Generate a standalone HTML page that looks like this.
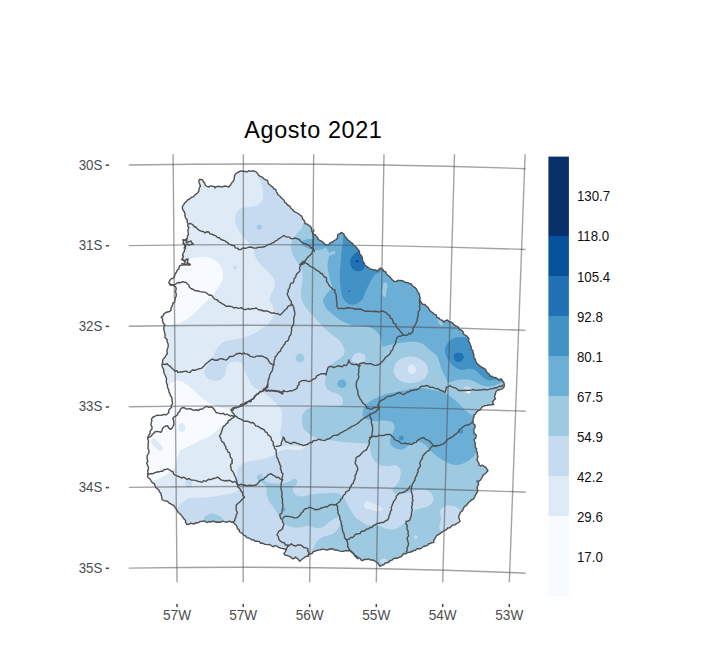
<!DOCTYPE html>
<html><head><meta charset="utf-8"><title>Agosto 2021</title>
<style>
html,body{margin:0;padding:0;background:#fff}
body{width:720px;height:658px;position:relative;overflow:hidden;font-family:"Liberation Sans",sans-serif}
.title{position:absolute;left:244.3px;top:117.1px;font-size:23.4px;line-height:27px;color:#000;white-space:nowrap;letter-spacing:0.62px}
.ll{position:absolute;left:576.9px;font-size:13.3px;line-height:16px;color:#111;white-space:nowrap;transform-origin:0 7.85px;transform:scaleY(1.17)}
.ya{position:absolute;left:60px;width:42.3px;text-align:right;font-size:13.3px;line-height:16px;color:#4d4d4d;white-space:nowrap;transform-origin:100% 12.6px;transform:scaleY(1.06)}
.xa{position:absolute;top:607.6px;width:40px;text-align:center;font-size:13.6px;line-height:16px;color:#4d4d4d;white-space:nowrap;transform-origin:50% 12.7px;transform:scaleY(1.08)}
.tk{position:absolute;background:#4a4a4a}
</style></head><body>
<div class="title">Agosto 2021</div>
<svg width="720" height="658" viewBox="0 0 720 658" style="position:absolute;left:0;top:0"><defs><clipPath id="uy"><path d="M199.2,179.5 L200.6,179.4 L202.5,180.0 L203.1,181.3 L204.5,183.0 L205.5,185.5 L207.0,186.3 L208.8,187.0 L210.5,185.9 L212.5,186.2 L214.2,186.4 L215.0,188.0 L216.3,186.6 L218.8,186.2 L220.9,186.6 L222.5,187.0 L224.0,186.0 L226.2,186.2 L228.8,187.0 L230.2,185.3 L231.0,184.1 L232.0,182.5 L233.4,181.1 L234.2,178.7 L234.5,176.2 L235.3,174.3 L237.5,172.5 L239.3,171.6 L240.7,171.0 L242.5,171.0 L244.0,171.5 L245.5,171.5 L247.5,171.8 L248.8,170.7 L250.8,171.4 L252.5,170.8 L254.5,171.1 L256.2,172.0 L257.4,173.2 L258.5,175.3 L260.0,176.2 L262.2,177.2 L263.8,178.8 L265.9,179.8 L267.5,180.5 L267.9,182.0 L268.3,183.6 L270.0,185.0 L271.5,186.3 L272.9,187.1 L273.8,188.8 L275.7,189.5 L276.2,191.2 L277.2,193.2 L278.1,194.8 L280.0,196.2 L281.1,197.8 L282.4,198.8 L283.8,200.0 L284.8,202.3 L286.4,203.4 L287.5,205.0 L289.8,206.1 L291.0,208.5 L292.5,209.5 L293.9,211.3 L296.2,212.5 L298.4,213.7 L300.0,215.0 L301.9,216.4 L302.5,218.8 L303.7,219.9 L304.9,222.0 L305.0,223.8 L306.8,223.9 L308.7,225.4 L310.0,226.2 L311.5,228.0 L311.7,230.8 L312.5,232.5 L313.6,234.4 L315.2,234.7 L316.2,236.2 L317.9,237.8 L318.0,239.4 L320.0,240.5 L321.8,241.3 L323.6,242.8 L325.0,244.5 L326.7,244.9 L328.8,245.0 L330.0,242.9 L332.5,242.0 L334.3,240.5 L336.2,239.5 L337.6,237.9 L337.5,236.1 L338.0,234.5 L339.5,234.0 L341.2,232.5 L343.8,233.8 L344.6,236.2 L346.2,237.5 L347.2,239.6 L348.8,240.3 L350.0,242.0 L351.8,242.8 L352.7,243.5 L353.8,245.5 L355.7,246.6 L357.5,248.8 L358.3,250.0 L359.5,251.5 L359.5,253.8 L361.1,255.4 L362.4,257.9 L362.5,260.0 L363.0,261.6 L364.5,263.4 L365.0,265.5 L366.7,266.4 L368.8,268.0 L370.6,269.4 L372.1,269.3 L373.8,270.0 L375.5,269.9 L377.5,271.2 L378.7,269.6 L380.5,268.0 L383.0,269.5 L383.5,271.0 L386.0,272.1 L386.2,273.8 L387.9,275.2 L390.0,277.0 L390.9,278.2 L392.7,280.2 L393.8,281.2 L396.1,281.6 L397.8,280.4 L400.0,280.5 L402.5,280.7 L404.4,282.0 L406.2,282.5 L407.8,282.6 L409.9,283.9 L411.2,283.8 L412.3,285.6 L413.5,286.8 L415.0,287.5 L416.4,288.9 L417.0,290.4 L418.0,292.5 L419.4,293.9 L419.5,296.2 L420.3,298.0 L419.4,299.7 L420.5,301.2 L421.8,303.3 L422.8,304.3 L424.9,304.5 L426.2,306.2 L428.0,307.3 L429.5,309.8 L430.5,311.3 L432.5,312.5 L434.1,314.2 L436.2,314.8 L436.9,317.3 L438.8,318.0 L440.1,319.7 L442.6,320.4 L443.8,322.0 L445.7,320.6 L447.5,320.0 L448.9,321.7 L451.2,322.0 L453.3,323.5 L454.1,324.9 L456.2,326.2 L458.1,326.8 L459.4,329.5 L461.2,330.0 L463.1,331.5 L463.2,333.9 L465.0,335.0 L466.7,336.1 L468.0,337.5 L469.0,338.6 L468.3,341.2 L469.5,342.5 L470.2,344.5 L470.9,346.1 L471.2,347.5 L471.2,349.1 L472.8,350.5 L473.0,352.5 L473.7,354.2 L473.9,355.7 L473.8,357.5 L475.3,359.2 L475.6,360.7 L476.2,362.5 L477.6,364.1 L479.1,365.2 L480.0,366.2 L481.7,367.1 L482.9,367.8 L485.0,368.8 L486.0,370.3 L487.0,372.5 L489.3,374.0 L490.0,376.2 L491.8,376.1 L493.3,377.5 L495.0,377.5 L497.1,378.5 L498.8,380.0 L501.2,378.8 L502.6,380.9 L503.8,382.5 L504.4,385.1 L503.8,387.5 L502.2,388.8 L500.0,389.5 L497.9,390.0 L496.2,391.2 L495.5,393.3 L495.0,395.0 L494.5,396.9 L495.5,398.8 L493.9,400.2 L492.5,402.0 L493.8,404.5 L491.9,404.7 L490.4,404.9 L488.8,405.0 L486.7,405.5 L485.0,405.6 L483.8,406.2 L482.1,406.8 L480.9,408.9 L480.0,410.0 L478.1,410.6 L476.2,412.5 L475.5,414.2 L473.8,415.0 L474.1,416.8 L473.0,418.8 L473.2,421.0 L472.0,422.5 L472.5,421.2 L473.5,423.7 L475.0,425.0 L475.1,427.4 L474.0,428.8 L473.8,431.2 L474.2,433.6 L476.0,434.7 L476.2,436.2 L475.8,438.0 L474.2,439.6 L474.5,441.2 L475.4,443.2 L475.1,445.3 L475.5,447.5 L476.6,448.8 L476.3,450.6 L477.5,452.5 L477.2,454.5 L478.0,456.6 L477.0,458.8 L477.4,460.9 L479.0,463.1 L478.8,465.0 L480.7,466.0 L482.1,465.1 L483.8,466.2 L485.9,467.3 L486.6,468.6 L488.0,470.5 L486.4,472.5 L485.0,473.8 L483.2,475.1 L482.0,477.5 L480.6,480.0 L478.8,481.2 L478.2,483.1 L478.7,484.4 L477.5,486.2 L477.0,488.2 L477.9,490.8 L477.0,492.5 L475.7,494.5 L475.0,496.2 L474.0,498.2 L472.8,499.5 L471.2,500.0 L470.2,501.2 L468.4,502.7 L467.5,503.8 L466.8,505.1 L465.1,506.1 L463.8,507.5 L463.2,509.3 L462.0,511.1 L460.0,512.5 L459.9,514.1 L458.8,515.6 L458.8,517.5 L459.3,519.1 L460.0,521.2 L458.6,522.5 L456.2,523.8 L455.1,524.8 L452.7,525.1 L451.2,526.2 L449.9,527.9 L447.7,528.0 L446.2,530.0 L444.4,530.3 L442.7,531.8 L441.2,532.5 L439.7,533.9 L437.4,535.0 L436.2,536.2 L435.1,538.5 L433.8,540.0 L433.8,542.5 L431.9,542.6 L430.6,543.5 L428.8,543.8 L427.7,545.1 L425.6,546.2 L423.8,546.2 L422.5,547.3 L420.5,548.7 L418.8,548.8 L416.7,548.8 L415.7,550.2 L413.8,550.5 L411.8,551.5 L409.8,552.4 L407.5,552.5 L405.7,553.9 L403.8,553.5 L402.5,555.0 L401.2,556.6 L400.0,557.0 L398.5,557.6 L396.9,558.5 L395.0,558.0 L393.4,558.9 L391.9,560.1 L390.0,560.5 L388.9,562.0 L387.1,562.8 L385.0,563.0 L384.1,564.5 L382.0,565.3 L380.0,566.2 L378.8,564.7 L377.7,563.0 L376.2,562.0 L374.3,560.5 L372.5,560.0 L370.5,560.0 L368.7,558.9 L366.2,559.5 L364.4,559.3 L362.7,560.6 L361.2,560.0 L359.7,558.1 L357.5,557.5 L356.3,555.8 L354.6,555.4 L353.8,553.8 L351.8,552.5 L350.5,551.0 L348.8,550.5 L346.7,550.7 L345.2,550.7 L343.8,551.2 L342.0,551.4 L339.6,551.1 L337.5,550.0 L335.0,550.2 L333.2,549.0 L331.2,548.8 L329.2,549.2 L327.5,550.0 L325.8,549.9 L323.2,549.1 L321.2,549.5 L319.1,550.1 L317.4,550.3 L315.0,551.2 L313.3,551.6 L312.2,553.5 L310.0,553.8 L308.7,554.5 L307.5,556.2 L305.1,556.9 L303.8,558.0 L302.4,559.0 L300.8,560.3 L299.5,561.2 L298.4,559.4 L297.3,558.5 L295.5,557.0 L294.5,558.3 L292.5,558.8 L291.0,557.2 L288.8,556.2 L287.5,555.5 L285.3,555.3 L283.8,553.8 L285.3,551.6 L286.2,549.5 L284.6,548.8 L282.5,548.5 L280.9,548.1 L278.8,547.5 L277.3,546.4 L274.9,545.6 L272.9,546.8 L271.2,545.5 L269.3,544.4 L267.9,544.6 L265.5,544.4 L264.0,544.0 L262.5,543.0 L260.5,543.2 L259.2,541.4 L257.0,541.2 L255.0,541.2 L253.6,539.8 L251.4,539.9 L250.7,539.0 L248.8,538.0 L246.7,537.6 L245.7,536.0 L243.8,535.4 L242.5,533.8 L240.8,532.5 L239.3,531.7 L239.4,529.8 L237.5,528.8 L236.8,526.3 L235.7,524.7 L233.8,523.0 L233.0,522.0 L231.3,522.2 L229.3,521.2 L227.5,522.0 L225.9,522.0 L224.5,521.9 L222.5,521.2 L220.7,522.2 L218.9,522.2 L217.5,522.0 L216.0,522.2 L214.4,521.5 L212.5,521.2 L210.5,522.0 L208.8,521.5 L207.5,522.5 L205.5,521.8 L204.3,520.9 L202.5,521.2 L201.1,521.4 L199.1,522.0 L197.5,523.0 L195.6,522.8 L194.6,523.8 L192.5,523.8 L190.9,523.2 L189.0,524.3 L187.0,524.5 L185.5,522.6 L185.6,520.4 L183.8,518.8 L182.8,517.1 L181.4,515.4 L180.0,513.8 L178.5,512.7 L176.9,510.4 L176.2,508.8 L175.2,507.7 L173.9,505.5 L172.5,505.0 L171.0,504.0 L169.1,503.1 L167.5,501.2 L165.9,501.0 L163.9,500.6 L162.0,499.5 L161.7,496.9 L161.2,495.0 L160.8,493.2 L159.4,491.7 L158.8,490.0 L157.4,488.7 L155.8,487.6 L155.0,485.5 L154.6,483.8 L152.4,482.6 L151.2,481.2 L150.2,479.2 L148.0,477.5 L147.6,475.2 L148.0,472.5 L147.7,470.7 L148.5,468.4 L148.3,467.2 L147.5,465.0 L146.6,463.0 L147.9,461.2 L147.3,459.8 L147.0,457.5 L147.3,455.2 L148.5,453.6 L149.0,452.3 L148.8,450.0 L147.9,448.3 L148.3,445.7 L148.0,443.8 L148.6,441.4 L147.9,439.3 L147.5,437.5 L148.7,435.5 L150.0,433.8 L150.0,431.6 L151.0,429.9 L152.0,428.8 L152.0,426.8 L150.9,424.9 L151.2,422.5 L151.9,420.7 L151.4,419.4 L152.5,417.5 L154.5,416.5 L156.2,415.5 L158.1,415.2 L160.0,415.4 L162.5,415.0 L164.1,414.3 L166.1,414.9 L167.5,413.8 L168.9,412.4 L168.7,410.4 L170.0,408.8 L171.6,407.3 L171.2,405.6 L172.5,403.8 L172.3,401.9 L172.1,400.6 L172.0,398.8 L171.5,396.6 L170.4,396.0 L170.0,393.8 L168.9,391.8 L168.7,389.7 L167.5,387.5 L167.5,385.1 L166.7,383.6 L166.2,381.2 L166.6,379.2 L166.0,377.2 L165.0,375.0 L164.1,373.2 L163.7,371.4 L163.8,370.0 L163.2,368.6 L162.2,366.9 L162.0,365.0 L162.6,362.8 L162.5,361.2 L163.2,359.1 L165.0,357.5 L166.1,355.0 L167.5,353.8 L167.0,352.0 L167.1,349.6 L168.0,347.5 L168.3,345.0 L167.7,342.9 L167.0,341.2 L167.1,339.4 L165.0,337.8 L165.0,336.2 L165.1,334.5 L164.5,332.1 L163.8,330.0 L163.9,328.4 L163.9,326.9 L165.0,325.0 L163.5,323.4 L162.5,321.2 L162.7,319.2 L161.2,317.0 L163.0,316.1 L163.8,313.8 L165.8,312.5 L167.5,312.0 L169.6,311.5 L171.2,310.0 L170.9,308.2 L172.0,306.3 L172.5,305.0 L172.8,303.2 L174.6,302.3 L175.0,300.0 L175.3,297.6 L176.2,296.3 L176.2,293.8 L175.5,291.6 L176.2,288.8 L175.7,286.9 L173.8,285.5 L171.6,284.8 L170.0,285.0 L168.8,282.5 L169.7,280.6 L171.2,278.8 L173.4,278.1 L174.5,276.2 L175.1,274.0 L176.2,272.5 L177.1,270.6 L178.8,268.8 L179.4,266.2 L181.2,265.0 L183.5,265.0 L185.0,263.8 L184.9,261.9 L183.0,260.0 L182.4,258.4 L183.4,256.2 L182.5,255.0 L183.2,253.2 L184.5,251.2 L184.5,249.6 L185.5,248.3 L185.0,246.2 L184.3,244.5 L183.0,243.8 L183.5,241.6 L183.0,240.0 L184.5,240.2 L186.2,240.0 L187.5,237.5 L187.4,235.9 L188.4,234.6 L188.2,232.5 L187.9,230.6 L188.1,229.5 L188.8,227.5 L187.6,225.7 L188.0,223.8 L187.0,221.8 L187.3,219.8 L186.2,218.8 L185.5,217.5 L184.8,215.6 L185.0,213.8 L184.3,211.7 L183.0,210.0 L182.3,208.3 L182.5,206.2 L183.8,204.6 L184.5,203.0 L186.5,201.6 L187.5,200.0 L189.3,199.2 L191.2,197.5 L193.3,196.8 L195.0,195.0 L196.3,193.9 L197.6,193.0 L198.8,191.2 L198.9,189.6 L199.5,187.4 L200.5,186.2 L199.8,184.2 L198.8,182.0Z"/></clipPath></defs><g clip-path="url(#uy)"><rect x="130" y="160" width="400" height="420" fill="#DEEBF7"/><path d="M165.0,263.8 C171.0,257.7 179.6,264.6 183.8,263.8 C187.9,262.9 187.3,259.9 190.0,258.8 C192.7,257.6 196.7,257.1 200.0,257.0 C203.3,256.9 207.1,257.1 210.0,258.0 C212.9,258.9 215.5,260.7 217.5,262.5 C219.5,264.3 221.1,266.5 222.0,268.8 C222.9,271.0 223.1,274.0 223.0,276.2 C222.9,278.5 222.2,280.4 221.2,282.5 C220.3,284.6 219.0,286.7 217.5,288.8 C216.0,290.8 214.2,293.1 212.5,295.0 C210.8,296.9 209.2,298.3 207.5,300.0 C205.8,301.7 204.2,303.3 202.5,305.0 C200.8,306.7 199.2,308.3 197.5,310.0 C195.8,311.7 194.2,313.5 192.5,315.0 C190.8,316.5 189.4,317.5 187.5,318.8 C185.6,320.0 182.8,321.7 181.2,322.5 C179.7,323.3 179.5,323.2 178.0,323.5 C176.5,323.8 174.2,324.2 172.0,324.5 C169.8,324.8 167.8,325.2 165.0,325.5 C162.2,325.8 157.8,330.2 155.0,326.0 C152.2,321.8 146.3,310.4 148.0,300.0 C149.7,289.6 159.0,269.8 165.0,263.8Z" fill="#F7FBFF"/><path d="M158.0,390.0 C161.2,387.5 165.2,386.2 167.5,385.0 C169.8,383.8 170.2,383.2 171.7,382.5 C173.2,381.8 175.0,380.9 176.7,380.8 C178.4,380.7 179.9,381.0 181.7,381.7 C183.5,382.4 185.6,383.6 187.5,385.0 C189.4,386.4 191.5,388.3 193.3,390.0 C195.1,391.7 196.6,393.5 198.3,395.0 C200.0,396.5 201.6,397.8 203.3,399.0 C205.0,400.2 206.6,401.5 208.3,402.5 C210.0,403.5 211.4,404.2 213.3,405.0 C215.2,405.8 217.4,406.7 220.0,407.5 C222.6,408.3 226.7,408.8 228.8,410.0 C230.8,411.2 232.5,413.3 232.5,415.0 C232.5,416.7 230.2,418.3 228.8,420.0 C227.3,421.7 225.6,423.3 223.8,425.0 C221.9,426.7 219.6,428.3 217.5,430.0 C215.4,431.7 213.3,433.5 211.2,435.0 C209.2,436.5 207.1,437.7 205.0,438.8 C202.9,439.8 200.8,440.3 198.8,441.2 C196.7,442.2 194.6,443.5 192.5,444.5 C190.4,445.5 188.1,446.6 186.2,447.5 C184.4,448.4 182.5,449.2 181.2,450.0 C180.0,450.8 179.5,450.8 178.8,452.5 C178.0,454.2 177.6,457.5 177.0,460.0 C176.4,462.5 175.8,465.8 175.0,467.5 C174.2,469.2 173.8,469.0 172.5,470.0 C171.2,471.0 169.4,472.5 167.5,473.8 C165.6,475.0 163.3,476.5 161.2,477.5 C159.2,478.5 157.2,479.4 155.0,480.0 C152.8,480.6 150.8,481.3 148.0,481.0 C145.2,480.7 139.7,484.8 138.0,478.0 C136.3,471.2 136.3,453.0 138.0,440.0 C139.7,427.0 144.7,408.3 148.0,400.0 C151.3,391.7 154.8,392.5 158.0,390.0Z" fill="#F7FBFF"/><ellipse cx="181.75" cy="427.5" rx="3.6" ry="4.2" fill="#DEEBF7"/><path d="M151.0,440.0 C151.1,438.8 152.8,438.2 154.0,438.5 C155.2,438.8 156.6,440.1 158.0,441.5 C159.4,442.9 161.8,445.5 162.5,447.0 C163.2,448.5 162.8,450.0 162.0,450.5 C161.2,451.0 159.4,450.8 158.0,450.0 C156.6,449.2 154.7,447.7 153.5,446.0 C152.3,444.3 150.9,441.2 151.0,440.0Z" fill="#DEEBF7"/><path d="M257.5,170.0 C257.6,172.8 256.9,172.7 257.5,175.0 C258.1,177.3 260.3,180.8 261.2,183.8 C262.2,186.7 262.8,189.8 263.0,192.5 C263.2,195.2 263.4,197.9 262.5,200.0 C261.6,202.1 259.6,203.8 257.5,205.0 C255.4,206.2 252.5,206.5 250.0,207.0 C247.5,207.5 244.6,207.3 242.5,208.0 C240.4,208.7 238.8,209.7 237.5,211.2 C236.2,212.8 235.2,215.2 235.0,217.5 C234.8,219.8 235.4,222.5 236.2,225.0 C237.1,227.5 238.5,230.2 240.0,232.5 C241.5,234.8 243.3,236.9 245.0,238.8 C246.7,240.6 248.5,241.9 250.0,243.8 C251.5,245.6 252.9,247.9 253.8,250.0 C254.6,252.1 254.2,254.2 255.0,256.2 C255.8,258.3 257.3,260.6 258.8,262.5 C260.2,264.4 262.1,265.8 263.8,267.5 C265.4,269.2 267.1,270.6 268.8,272.5 C270.4,274.4 272.7,276.7 273.8,278.8 C274.8,280.8 275.2,282.9 275.0,285.0 C274.8,287.1 273.3,289.2 272.5,291.2 C271.7,293.3 270.5,295.8 270.0,297.5 C269.5,299.2 269.1,300.0 269.5,301.2 C269.9,302.5 271.8,303.3 272.5,305.0 C273.2,306.7 273.6,309.3 273.8,311.2 C273.9,313.2 273.9,315.0 273.3,316.7 C272.7,318.4 271.2,320.2 270.0,321.7 C268.8,323.2 267.3,324.6 265.8,325.8 C264.3,327.1 262.5,328.1 260.8,329.2 C259.1,330.3 257.6,331.5 255.8,332.5 C254.0,333.5 251.9,334.5 250.0,335.3 C248.1,336.1 246.1,336.9 244.2,337.5 C242.2,338.1 240.2,338.3 238.3,338.7 C236.4,339.1 234.4,339.3 232.5,339.7 C230.6,340.1 228.5,340.2 226.7,340.8 C224.9,341.4 223.2,342.2 221.7,343.3 C220.2,344.4 218.6,346.1 217.5,347.5 C216.4,348.9 215.7,350.3 215.0,351.7 C214.3,353.1 213.9,354.7 213.3,355.8 C212.8,356.9 212.4,357.1 211.7,358.3 C211.0,359.6 210.2,361.8 209.2,363.3 C208.2,364.8 206.6,366.1 205.8,367.5 C205.0,368.9 204.4,370.4 204.2,371.7 C204.0,372.9 204.3,374.0 204.7,375.0 C205.1,376.0 205.7,376.7 206.7,377.5 C207.7,378.3 209.1,379.4 210.8,380.0 C212.5,380.6 214.9,380.9 216.7,380.8 C218.5,380.7 220.3,380.2 221.7,379.2 C223.1,378.2 224.3,376.5 225.0,375.0 C225.7,373.5 225.5,371.4 225.8,370.0 C226.1,368.6 226.1,367.8 226.7,366.7 C227.3,365.6 228.1,364.1 229.2,363.3 C230.3,362.5 231.8,361.9 233.3,361.7 C234.8,361.5 236.9,361.7 238.3,362.0 C239.7,362.3 240.8,362.5 241.7,363.3 C242.6,364.1 243.1,365.3 243.7,366.7 C244.2,368.1 244.4,370.0 245.0,371.7 C245.6,373.4 246.7,375.0 247.5,376.7 C248.3,378.4 249.0,380.0 250.0,381.7 C251.0,383.4 252.3,385.6 253.3,386.7 C254.3,387.8 255.1,387.8 256.2,388.5 C257.4,389.2 258.5,390.1 260.0,391.0 C261.5,391.9 263.3,392.9 265.0,394.0 C266.7,395.1 268.3,396.1 270.0,397.5 C271.7,398.9 273.3,400.8 275.0,402.5 C276.7,404.2 278.8,405.6 280.0,407.5 C281.2,409.4 281.7,411.8 282.0,414.0 C282.3,416.2 282.2,418.7 282.0,421.0 C281.8,423.3 281.3,425.8 281.0,428.0 C280.7,430.2 279.9,432.2 280.0,434.0 C280.1,435.8 281.1,437.5 281.5,439.0 C281.9,440.5 282.3,441.7 282.3,443.0 C282.3,444.3 281.9,445.8 281.5,447.0 C281.1,448.2 280.7,449.1 280.0,450.0 C279.3,450.9 278.5,451.7 277.5,452.5 C276.5,453.3 275.4,454.1 273.8,455.0 C272.1,455.9 269.8,457.0 267.5,457.8 C265.2,458.6 262.4,459.3 260.0,459.8 C257.6,460.3 255.5,460.4 253.3,460.8 C251.1,461.2 248.6,461.4 246.7,462.0 C244.8,462.6 243.1,463.3 241.7,464.2 C240.3,465.1 239.1,466.1 238.3,467.5 C237.5,468.9 237.3,470.7 237.0,472.5 C236.7,474.3 236.7,476.5 236.7,478.3 C236.7,480.1 236.7,481.8 237.0,483.3 C237.3,484.8 238.0,486.4 238.3,487.5 C238.6,488.6 239.1,489.3 238.7,490.0 C238.3,490.7 237.1,491.1 235.8,491.7 C234.5,492.3 232.6,493.2 230.8,493.7 C229.0,494.2 227.1,494.3 225.0,494.7 C222.9,495.1 220.5,495.5 218.3,495.8 C216.1,496.1 213.9,496.4 211.7,496.7 C209.5,497.0 207.2,497.3 205.0,497.5 C202.8,497.7 200.5,497.7 198.3,497.8 C196.1,497.9 193.6,497.8 191.7,498.0 C189.8,498.2 188.2,498.4 186.7,499.2 C185.2,499.9 183.8,501.4 182.5,502.5 C181.2,503.6 180.2,504.8 179.2,505.8 C178.2,506.8 178.6,506.3 176.7,508.3 C174.8,510.3 169.4,505.2 168.0,518.0 C166.6,530.8 108.5,573.8 168.0,585.0 C227.5,596.2 465.5,656.2 525.0,585.0 C584.5,513.8 569.7,229.2 525.0,158.0 C480.3,86.8 301.6,156.0 257.0,158.0 C212.4,160.0 257.4,167.2 257.5,170.0Z" fill="#C6DBEF"/><path d="M277.0,448.5 C277.7,447.6 279.8,447.0 281.7,446.5 C283.6,446.0 286.1,445.6 288.3,445.5 C290.5,445.4 293.1,446.0 295.0,446.0 C296.9,446.0 298.3,446.0 300.0,445.5 C301.7,445.0 304.1,442.9 305.0,443.0 C305.9,443.1 305.6,445.2 305.5,446.0 C305.4,446.8 305.1,447.4 304.2,448.0 C303.3,448.6 301.5,449.5 300.0,449.9 C298.5,450.3 296.9,450.4 295.0,450.3 C293.1,450.2 290.5,449.6 288.3,449.6 C286.1,449.6 283.5,450.1 281.7,450.5 C279.9,450.9 278.3,452.3 277.5,452.0 C276.7,451.7 276.3,449.4 277.0,448.5Z" fill="#DEEBF7"/><path d="M363.8,505.0 C363.8,503.8 365.0,501.7 366.2,501.2 C367.5,500.8 369.6,501.9 371.2,502.5 C372.9,503.1 374.6,504.2 376.2,505.0 C377.9,505.8 380.2,506.2 381.2,507.0 C382.3,507.8 383.1,509.3 382.5,510.0 C381.9,510.7 379.4,511.3 377.5,511.2 C375.6,511.2 373.1,509.9 371.2,509.5 C369.4,509.1 367.5,509.5 366.2,508.8 C365.0,508.0 363.8,506.2 363.8,505.0Z" fill="#DEEBF7"/><ellipse cx="235" cy="267.5" rx="2.0" ry="2.0" fill="#C6DBEF"/><ellipse cx="188.7" cy="483.3" rx="3.5" ry="4.3" fill="#C6DBEF"/><path d="M304.0,222.0 C299.4,234.0 303.3,225.5 302.5,226.9 C301.7,228.3 300.4,229.3 299.4,230.6 C298.4,231.8 297.4,233.0 296.3,234.4 C295.2,235.8 293.9,237.2 293.1,238.8 C292.3,240.3 291.6,242.1 291.2,243.8 C290.9,245.4 290.8,247.1 291.0,248.8 C291.2,250.4 291.8,252.1 292.5,253.8 C293.2,255.4 294.1,257.2 295.0,258.8 C295.9,260.3 297.3,261.9 298.1,263.1 C298.9,264.4 299.4,265.1 300.0,266.2 C300.6,267.4 301.5,268.3 301.9,270.0 C302.3,271.7 302.4,274.2 302.5,276.2 C302.6,278.3 302.4,280.5 302.2,282.5 C302.0,284.5 301.7,286.2 301.5,288.0 C301.3,289.8 300.9,291.3 301.0,293.3 C301.1,295.3 301.4,297.9 302.0,300.0 C302.6,302.1 303.6,304.0 304.7,305.8 C305.8,307.6 306.9,309.1 308.3,310.8 C309.7,312.5 311.8,314.1 313.3,315.8 C314.8,317.5 316.2,319.4 317.5,320.8 C318.8,322.2 319.5,323.0 321.0,324.5 C322.5,326.0 324.3,328.2 326.2,330.0 C328.2,331.8 330.4,333.3 332.5,335.0 C334.6,336.7 337.1,338.3 338.8,340.0 C340.4,341.7 341.5,343.1 342.5,345.0 C343.5,346.9 344.5,349.4 344.5,351.2 C344.5,353.1 343.7,354.8 342.5,356.2 C341.3,357.7 339.2,358.8 337.5,360.0 C335.8,361.2 334.0,362.3 332.5,363.8 C331.0,365.2 329.8,366.9 328.8,368.8 C327.7,370.6 326.9,372.9 326.2,375.0 C325.6,377.1 325.0,379.2 325.0,381.2 C325.0,383.3 325.4,385.8 326.2,387.5 C327.1,389.2 328.3,390.3 330.0,391.2 C331.7,392.2 334.4,392.2 336.2,393.0 C338.1,393.8 340.1,394.9 341.2,396.2 C342.4,397.6 343.0,399.8 343.0,401.2 C343.0,402.7 342.6,404.2 341.2,405.0 C339.9,405.8 337.3,406.0 335.0,406.2 C332.7,406.5 330.0,406.5 327.5,406.5 C325.0,406.5 322.5,406.4 320.0,406.5 C317.5,406.6 314.8,406.4 312.5,407.0 C310.2,407.6 307.9,408.7 306.2,410.0 C304.6,411.3 303.2,412.9 302.5,415.0 C301.8,417.1 301.8,420.2 302.0,422.5 C302.2,424.8 302.6,426.9 303.8,428.8 C304.9,430.6 306.9,432.3 308.8,433.8 C310.6,435.2 312.7,436.5 315.0,437.5 C317.3,438.5 320.0,439.1 322.5,439.5 C325.0,439.9 327.5,439.7 330.0,440.0 C332.5,440.3 334.6,440.8 337.5,441.2 C340.4,441.7 344.2,442.2 347.5,442.5 C350.8,442.8 354.4,442.8 357.5,443.0 C360.6,443.2 364.4,443.6 366.2,443.8 C368.1,443.9 368.1,443.1 368.8,443.8 C369.4,444.4 369.6,445.6 370.0,447.5 C370.4,449.4 370.4,452.7 371.2,455.0 C372.1,457.3 373.5,459.6 375.0,461.2 C376.5,462.9 377.9,464.2 380.0,465.0 C382.1,465.8 385.0,466.2 387.5,466.2 C390.0,466.2 392.9,464.6 395.0,465.0 C397.1,465.4 399.1,467.1 400.0,468.8 C400.9,470.4 400.7,472.9 400.5,475.0 C400.3,477.1 399.7,479.4 398.8,481.2 C397.8,483.1 396.0,484.8 395.0,486.2 C394.0,487.7 392.5,488.8 392.5,490.0 C392.5,491.2 393.3,493.1 395.0,493.8 C396.7,494.4 400.0,494.0 402.5,493.8 C405.0,493.5 407.9,493.0 410.0,492.5 C412.1,492.0 412.9,490.9 415.0,490.5 C417.1,490.1 420.2,489.9 422.5,490.0 C424.8,490.1 427.1,490.4 428.8,491.2 C430.4,492.1 431.8,493.3 432.5,495.0 C433.2,496.7 433.4,499.6 433.0,501.2 C432.6,502.9 431.3,504.0 430.0,505.0 C428.7,506.0 426.9,506.9 425.0,507.5 C423.1,508.1 420.6,508.1 418.8,508.8 C416.9,509.4 415.0,510.0 413.8,511.2 C412.5,512.5 412.1,514.8 411.2,516.2 C410.4,517.7 410.0,518.8 408.8,520.0 C407.5,521.2 405.4,522.5 403.8,523.8 C402.1,525.0 400.6,526.5 398.8,527.5 C396.9,528.5 394.6,529.3 392.5,529.5 C390.4,529.7 388.3,529.3 386.2,528.8 C384.2,528.2 381.9,526.9 380.0,526.2 C378.1,525.6 376.8,524.9 375.0,524.8 C373.2,524.7 370.7,525.6 369.2,525.5 C367.7,525.4 367.1,524.8 365.8,524.2 C364.6,523.6 363.1,522.5 361.7,521.7 C360.3,520.9 358.8,520.2 357.5,519.2 C356.2,518.2 355.2,517.0 354.2,515.8 C353.2,514.5 352.5,513.1 351.7,511.7 C350.9,510.3 350.0,509.0 349.2,507.5 C348.4,506.0 347.5,504.0 346.7,502.5 C345.9,501.0 345.2,499.6 344.2,498.3 C343.2,497.1 342.2,495.9 340.8,495.0 C339.4,494.1 337.6,493.3 335.8,493.0 C334.0,492.7 332.1,492.9 330.0,493.0 C327.9,493.1 325.5,493.2 323.3,493.3 C321.1,493.4 318.9,493.5 316.7,493.7 C314.5,493.9 312.2,494.3 310.0,494.7 C307.8,495.1 305.4,496.1 303.3,496.3 C301.2,496.5 299.0,496.3 297.5,495.8 C296.0,495.3 294.9,494.4 294.2,493.3 C293.4,492.2 292.9,490.4 293.0,489.2 C293.1,487.9 294.2,486.9 295.0,485.8 C295.8,484.7 297.2,483.5 297.5,482.5 C297.8,481.5 297.2,480.6 296.7,480.0 C296.1,479.4 295.2,478.6 294.2,478.7 C293.2,478.8 292.1,480.2 290.8,480.8 C289.6,481.4 288.2,482.1 286.7,482.5 C285.2,482.9 283.6,483.2 281.7,483.3 C279.8,483.4 277.2,483.4 275.0,483.3 C272.8,483.2 270.0,482.9 268.3,482.5 C266.6,482.1 266.0,481.6 265.0,480.8 C264.0,480.0 262.9,478.5 262.5,477.5 C262.1,476.5 263.1,475.6 262.5,475.0 C261.9,474.4 260.2,473.9 259.2,474.2 C258.2,474.5 256.9,475.7 256.7,476.7 C256.5,477.7 257.1,478.9 258.0,480.0 C258.9,481.1 260.6,481.9 262.0,483.0 C263.4,484.1 265.6,485.1 266.3,486.5 C267.0,487.9 266.1,489.9 266.3,491.7 C266.5,493.5 266.9,495.7 267.5,497.5 C268.1,499.3 269.0,500.8 270.0,502.5 C271.0,504.2 272.2,505.8 273.3,507.5 C274.4,509.2 275.7,511.0 276.7,512.5 C277.7,514.0 278.5,515.4 279.5,516.7 C280.5,518.0 281.3,519.1 282.5,520.5 C283.7,521.9 285.2,523.9 286.7,525.0 C288.2,526.1 289.9,526.6 291.7,527.0 C293.5,527.4 295.6,527.5 297.5,527.5 C299.4,527.5 301.5,527.0 303.3,526.7 C305.1,526.4 306.9,525.8 308.3,525.8 C309.7,525.8 310.3,526.6 311.7,527.0 C313.1,527.4 315.0,528.2 316.7,528.3 C318.4,528.4 320.2,528.0 321.7,527.5 C323.2,527.0 324.6,525.9 325.8,525.0 C327.1,524.1 327.9,523.0 329.2,522.0 C330.4,521.0 332.1,520.0 333.3,519.2 C334.6,518.5 335.7,517.6 336.7,517.5 C337.7,517.4 338.6,517.3 339.2,518.3 C339.8,519.3 340.1,521.6 340.0,523.3 C339.9,525.0 339.0,526.9 338.3,528.3 C337.6,529.7 336.9,530.7 335.8,531.7 C334.7,532.7 333.2,533.5 331.7,534.2 C330.2,534.9 328.4,535.2 326.7,535.8 C325.0,536.3 323.2,536.7 321.7,537.5 C320.2,538.3 318.6,539.5 317.5,540.8 C316.4,542.0 315.8,543.5 315.0,545.0 C314.2,546.5 313.2,548.3 312.5,550.0 C311.8,551.7 311.4,552.3 310.8,555.0 C310.2,557.7 309.3,560.5 309.0,566.0 C308.7,571.5 272.2,584.3 309.0,588.0 C345.8,591.7 493.2,660.2 530.0,588.0 C566.8,515.8 563.3,227.2 530.0,155.0 C496.7,82.8 367.7,143.8 330.0,155.0 C292.3,166.2 308.6,210.0 304.0,222.0Z" fill="#9ECAE1"/><ellipse cx="300" cy="358" rx="4.4" ry="4.4" fill="#9ECAE1"/><ellipse cx="259.25" cy="227" rx="2.5" ry="2.5" fill="#9ECAE1"/><path d="M203.3,520.5 C203.3,518.8 204.0,517.8 205.0,516.7 C206.0,515.7 207.8,514.7 209.2,514.2 C210.6,513.7 211.8,513.5 213.3,513.7 C214.8,513.9 216.9,514.7 218.3,515.3 C219.7,515.9 220.8,516.6 221.7,517.5 C222.6,518.4 223.5,519.1 223.7,520.5 C223.9,521.9 226.1,524.9 223.0,526.0 C219.9,527.1 208.3,527.9 205.0,527.0 C201.7,526.1 203.3,522.2 203.3,520.5Z" fill="#9ECAE1"/><path d="M393.8,370.0 C394.0,367.8 394.8,364.5 396.2,362.5 C397.7,360.5 400.0,359.0 402.5,358.0 C405.0,357.0 408.3,356.4 411.2,356.5 C414.2,356.6 417.5,357.4 420.0,358.8 C422.5,360.1 424.9,362.4 426.2,364.5 C427.6,366.6 428.2,369.0 428.0,371.2 C427.8,373.5 426.8,376.2 425.0,378.0 C423.2,379.8 420.2,381.2 417.5,382.0 C414.8,382.8 411.7,383.2 408.8,383.0 C405.8,382.8 402.3,381.8 400.0,380.5 C397.7,379.2 396.0,377.2 395.0,375.5 C394.0,373.8 393.5,372.2 393.8,370.0Z" fill="#C6DBEF"/><ellipse cx="411.75" cy="369.3" rx="4.2" ry="4.4" fill="#DEEBF7"/><path d="M352.0,358.0 C352.4,356.8 353.5,354.6 355.0,353.8 C356.5,352.9 359.5,352.5 361.2,353.0 C363.0,353.5 365.1,355.5 365.5,357.0 C365.9,358.5 365.1,361.0 363.8,362.0 C362.4,363.0 359.4,363.1 357.5,363.0 C355.6,362.9 353.4,362.1 352.5,361.2 C351.6,360.4 351.6,359.2 352.0,358.0Z" fill="#C6DBEF"/><path d="M440.0,512.5 C440.2,510.6 441.0,508.7 442.5,507.5 C444.0,506.3 446.7,505.7 448.8,505.5 C450.8,505.3 453.1,505.5 455.0,506.2 C456.9,507.0 458.5,508.4 460.0,510.0 C461.5,511.6 464.2,513.7 464.0,516.0 C463.8,518.3 461.0,521.9 459.0,524.0 C457.0,526.1 454.5,527.2 452.0,528.5 C449.5,529.8 445.8,531.2 443.8,531.5 C441.8,531.8 440.7,531.1 440.0,530.0 C439.3,528.9 439.3,526.9 439.5,525.0 C439.7,523.1 441.2,520.8 441.2,518.8 C441.3,516.7 439.8,514.4 440.0,512.5Z" fill="#C6DBEF"/><ellipse cx="415.75" cy="537" rx="1.8" ry="1.8" fill="#C6DBEF"/><ellipse cx="383.75" cy="561" rx="3.5" ry="2.5" fill="#C6DBEF"/><ellipse cx="467.5" cy="390" rx="4.5" ry="3.4" fill="#C6DBEF" transform="rotate(20 467.5 390)"/><ellipse cx="468" cy="391.5" rx="2.0" ry="1.3" fill="#F7FBFF" transform="rotate(20 468 391.5)"/><path d="M301.2,242.2 C301.7,241.5 303.3,240.5 304.4,240.0 C305.5,239.5 306.9,239.2 308.1,239.0 C309.4,238.8 310.9,239.2 311.9,238.8 C312.9,238.2 314.0,238.3 314.0,236.0 C314.0,233.7 307.7,228.5 312.0,225.0 C316.3,221.5 322.0,207.5 340.0,215.0 C358.0,222.5 396.7,250.8 420.0,270.0 C443.3,289.2 463.3,311.7 480.0,330.0 C496.7,348.3 516.2,371.2 520.0,380.0 C523.8,388.8 506.5,381.9 503.0,382.5 C499.5,383.1 500.5,383.1 498.8,383.8 C497.0,384.4 494.6,385.8 492.5,386.2 C490.4,386.7 488.1,386.5 486.2,386.2 C484.4,386.0 482.9,385.6 481.2,385.0 C479.6,384.4 478.1,383.3 476.2,382.5 C474.4,381.7 472.3,380.5 470.0,380.0 C467.7,379.5 465.0,379.4 462.5,379.5 C460.0,379.6 457.3,380.0 455.0,380.5 C452.7,381.0 450.2,382.8 448.8,382.5 C447.3,382.2 447.1,380.2 446.2,378.8 C445.4,377.3 444.6,375.4 443.8,373.8 C442.9,372.1 442.0,370.6 441.2,368.8 C440.5,366.9 440.2,364.6 439.5,362.5 C438.8,360.4 438.2,358.0 437.0,356.2 C435.8,354.5 434.1,353.4 432.5,352.0 C430.9,350.6 429.2,349.4 427.5,348.0 C425.8,346.6 424.4,344.8 422.5,343.8 C420.6,342.8 418.8,342.3 416.2,342.0 C413.8,341.7 410.4,341.8 407.5,342.0 C404.6,342.2 401.5,342.6 398.8,343.0 C396.0,343.4 393.5,344.0 391.2,344.5 C389.0,345.0 386.5,346.1 385.0,346.2 C383.5,346.4 382.6,346.8 382.0,345.5 C381.4,344.2 382.0,340.9 381.2,338.8 C380.5,336.6 379.0,334.2 377.5,332.5 C376.0,330.8 374.6,329.5 372.5,328.5 C370.4,327.5 367.9,326.8 365.0,326.2 C362.1,325.8 357.9,325.9 355.0,325.5 C352.1,325.1 350.0,324.7 347.5,323.8 C345.0,322.8 342.3,321.5 340.0,320.0 C337.7,318.5 335.8,316.7 333.8,315.0 C331.7,313.3 329.0,311.7 327.5,310.0 C326.0,308.3 325.2,306.7 324.5,305.0 C323.8,303.3 323.0,301.5 323.1,300.0 C323.2,298.5 324.3,297.5 325.0,296.2 C325.7,295.0 326.6,293.6 327.5,292.5 C328.4,291.4 329.8,290.4 330.6,289.4 C331.4,288.4 332.2,287.4 332.3,286.5 C332.4,285.6 331.6,284.8 331.2,283.8 C330.9,282.7 330.4,281.5 330.0,280.0 C329.6,278.5 329.3,276.7 329.0,275.0 C328.7,273.3 328.4,271.7 328.1,270.0 C327.9,268.3 327.5,266.7 327.5,265.0 C327.5,263.3 327.9,261.5 328.1,260.0 C328.4,258.5 328.9,257.4 329.0,256.0 C329.1,254.6 329.1,252.8 328.5,251.5 C327.9,250.2 326.6,248.4 325.6,248.0 C324.6,247.6 323.6,248.7 322.5,249.0 C321.4,249.3 320.1,249.8 318.8,250.0 C317.4,250.2 315.8,250.1 314.4,250.0 C313.0,249.9 311.9,249.7 310.6,249.4 C309.4,249.1 308.0,248.6 306.9,248.1 C305.8,247.6 304.6,246.9 303.8,246.2 C302.9,245.6 302.3,245.1 301.9,244.4 C301.5,243.7 300.8,243.0 301.2,242.2Z" fill="#6BAED6"/><path d="M362.5,412.5 C362.7,410.6 363.9,408.0 365.0,406.2 C366.1,404.5 367.3,403.3 369.0,402.0 C370.7,400.7 373.2,399.5 375.0,398.5 C376.8,397.5 377.9,397.1 380.0,396.2 C382.1,395.4 385.0,394.3 387.5,393.6 C390.0,392.9 392.5,392.7 395.0,392.2 C397.5,391.7 400.4,391.2 402.5,390.8 C404.6,390.4 405.8,390.2 407.5,389.8 C409.2,389.4 410.4,388.9 412.5,388.6 C414.6,388.3 417.9,387.8 420.0,387.8 C422.1,387.8 422.9,388.2 425.0,388.6 C427.1,389.0 430.0,389.5 432.5,390.0 C435.0,390.5 437.7,390.9 440.0,391.5 C442.3,392.1 444.6,393.0 446.2,393.8 C447.9,394.5 448.5,395.2 450.0,396.2 C451.5,397.3 453.3,398.5 455.0,400.0 C456.7,401.5 458.3,403.3 460.0,405.0 C461.7,406.7 463.3,408.5 465.0,410.0 C466.7,411.5 468.7,412.8 470.0,413.8 C471.3,414.7 470.2,414.5 473.0,415.5 C475.8,416.5 484.7,414.2 487.0,420.0 C489.3,425.8 488.7,444.6 487.0,450.0 C485.3,455.4 479.2,451.5 477.0,452.5 C474.8,453.5 475.3,454.8 473.8,456.2 C472.2,457.7 469.8,459.9 467.5,461.2 C465.2,462.6 462.5,464.0 460.0,464.5 C457.5,465.0 455.0,465.0 452.5,464.5 C450.0,464.0 447.3,462.4 445.0,461.2 C442.7,460.1 440.6,458.8 438.8,457.5 C436.9,456.2 435.4,455.2 433.8,453.8 C432.1,452.3 430.4,450.4 428.8,448.8 C427.1,447.1 425.6,445.0 423.8,443.8 C421.9,442.5 419.4,441.4 417.5,441.2 C415.6,441.1 414.2,442.2 412.5,443.0 C410.8,443.8 409.2,445.2 407.5,446.2 C405.8,447.3 404.4,449.1 402.5,449.5 C400.6,449.9 398.1,449.5 396.2,448.8 C394.4,448.0 392.3,446.5 391.2,445.0 C390.2,443.5 389.8,441.9 390.0,440.0 C390.2,438.1 391.8,435.8 392.5,433.8 C393.2,431.8 394.4,429.8 394.5,428.0 C394.6,426.2 393.8,424.1 393.0,423.0 C392.2,421.9 391.8,421.7 390.0,421.2 C388.2,420.8 385.0,420.5 382.5,420.5 C380.0,420.5 377.3,421.3 375.0,421.2 C372.7,421.2 370.6,420.6 368.8,420.0 C366.9,419.4 364.8,418.8 363.8,417.5 C362.7,416.2 362.3,414.4 362.5,412.5Z" fill="#6BAED6"/><ellipse cx="342" cy="383.75" rx="4.6" ry="4.3" fill="#6BAED6"/><ellipse cx="284.2" cy="509.7" rx="1.7" ry="1.7" fill="#6BAED6"/><ellipse cx="312.5" cy="301.7" rx="0.9" ry="0.9" fill="#6BAED6"/><path d="M383.0,283.8 C383.5,282.9 385.5,282.1 386.2,282.5 C387.0,282.9 387.5,284.8 387.5,286.2 C387.5,287.7 386.5,289.6 386.2,291.2 C386.0,292.9 386.3,295.4 385.8,296.2 C385.2,297.1 383.6,297.1 383.0,296.2 C382.4,295.4 382.0,292.7 382.0,291.2 C382.0,289.8 382.8,288.8 383.0,287.5 C383.2,286.2 382.5,284.6 383.0,283.8Z" fill="#9ECAE1"/><path d="M329.2,252.9 C329.7,252.2 331.6,251.7 332.5,251.4 C333.4,251.1 334.5,250.7 334.9,251.1 C335.3,251.5 335.4,253.2 334.9,253.8 C334.4,254.4 332.8,254.2 331.9,254.5 C331.0,254.8 329.9,256.1 329.5,255.8 C329.1,255.5 328.7,253.6 329.2,252.9Z" fill="#9ECAE1"/><path d="M437.5,318.8 C437.7,318.2 439.1,319.2 440.0,320.0 C440.9,320.8 442.8,322.8 443.0,323.8 C443.2,324.7 442.0,325.6 441.2,325.5 C440.5,325.4 439.4,324.1 438.8,323.0 C438.1,321.9 437.3,319.2 437.5,318.8Z" fill="#9ECAE1"/><path d="M343.8,229.0 C342.4,229.8 343.9,231.5 343.8,233.1 C343.6,234.7 343.3,236.8 343.1,238.8 C342.9,240.7 342.8,242.9 342.5,245.0 C342.2,247.1 341.8,249.2 341.5,251.2 C341.2,253.3 341.1,255.4 341.0,257.5 C340.9,259.6 340.8,261.7 340.6,263.8 C340.4,265.8 340.1,267.9 340.0,270.0 C339.9,272.1 339.8,274.2 339.8,276.2 C339.8,278.3 339.9,280.4 340.0,282.5 C340.1,284.6 340.3,286.7 340.6,288.8 C340.9,290.8 341.2,293.0 341.9,295.0 C342.5,297.0 343.3,299.0 344.5,300.5 C345.7,302.0 347.4,303.3 349.0,304.0 C350.6,304.7 352.5,304.8 354.0,304.6 C355.5,304.4 356.7,303.8 358.0,303.0 C359.3,302.2 360.9,301.1 361.9,300.0 C362.9,298.9 363.1,297.7 363.8,296.2 C364.4,294.8 364.9,292.9 365.6,291.2 C366.3,289.6 367.3,287.9 368.1,286.2 C368.9,284.6 369.8,282.8 370.6,281.2 C371.4,279.7 372.2,278.1 373.1,276.9 C374.0,275.6 375.1,274.6 376.2,273.8 C377.4,272.9 378.7,273.9 380.0,271.9 C381.3,269.9 386.5,267.3 384.0,262.0 C381.5,256.7 370.3,245.7 365.0,240.0 C359.7,234.3 355.5,229.8 352.0,228.0 C348.5,226.2 345.1,228.2 343.8,229.0Z" fill="#4292C6"/><path d="M445.0,350.0 C445.1,348.5 445.4,346.6 446.2,345.0 C447.1,343.4 448.3,341.8 450.0,340.5 C451.7,339.2 454.0,338.1 456.2,337.5 C458.5,336.9 461.8,336.9 463.8,337.0 C465.7,337.1 465.0,337.2 468.0,338.0 C471.0,338.8 477.7,337.5 482.0,342.0 C486.3,346.5 490.5,358.5 494.0,365.0 C497.5,371.5 502.8,378.6 503.0,381.0 C503.2,383.4 497.2,379.6 495.0,379.5 C492.8,379.4 491.7,380.6 490.0,380.5 C488.3,380.4 486.7,379.8 485.0,378.8 C483.3,377.8 481.7,376.0 480.0,374.5 C478.3,373.0 476.9,371.0 475.0,370.0 C473.1,369.0 470.8,368.8 468.8,368.8 C466.7,368.8 464.6,370.1 462.5,370.0 C460.4,369.9 458.1,369.0 456.2,368.0 C454.4,367.0 452.7,365.3 451.2,363.8 C449.8,362.2 448.5,360.4 447.5,358.8 C446.5,357.1 445.9,355.2 445.5,353.8 C445.1,352.3 444.9,351.5 445.0,350.0Z" fill="#4292C6"/><ellipse cx="401.25" cy="438" rx="2.5" ry="2.5" fill="#4292C6"/><ellipse cx="460.75" cy="431.5" rx="2.3" ry="2.3" fill="#4292C6"/><ellipse cx="477.5" cy="481.25" rx="1.6" ry="1.6" fill="#4292C6"/><path d="M350.0,261.2 C350.2,260.3 350.6,258.6 351.2,257.5 C351.9,256.4 352.8,255.3 353.8,254.4 C354.7,253.5 355.9,252.8 356.9,252.2 C357.9,251.7 357.6,249.4 359.5,251.0 C361.4,252.6 367.1,259.5 368.0,262.0 C368.9,264.5 365.8,265.0 365.0,266.2 C364.2,267.5 363.9,268.6 363.1,269.4 C362.3,270.2 361.1,271.0 360.0,271.2 C358.9,271.5 357.4,271.3 356.2,271.0 C355.1,270.7 354.0,270.2 353.1,269.4 C352.2,268.6 351.5,267.3 351.0,266.2 C350.5,265.2 350.2,263.9 350.0,263.1 C349.8,262.3 349.8,262.2 350.0,261.2Z" fill="#2171B5"/><path d="M453.8,355.5 C454.0,354.2 455.0,353.4 456.2,353.0 C457.5,352.6 460.0,352.5 461.2,353.0 C462.5,353.5 463.5,355.1 463.8,356.2 C464.0,357.4 463.3,359.0 462.5,360.0 C461.7,361.0 460.0,361.9 458.8,362.0 C457.5,362.1 455.8,361.6 455.0,360.5 C454.2,359.4 453.5,356.8 453.8,355.5Z" fill="#2171B5"/><ellipse cx="349.4" cy="291.25" rx="1.0" ry="1.0" fill="#2171B5"/><ellipse cx="357.25" cy="261.25" rx="1.6" ry="1.3" fill="#08519C"/></g><g fill="none" stroke="#4d4d4d" stroke-opacity="0.52" stroke-width="1.38"><path d="M173.1,154.3 L177.0,582.3"/><path d="M243.4,154.3 L243.2,582.3"/><path d="M313.7,154.3 L309.7,582.3"/><path d="M384.0,154.3 L376.3,582.3"/><path d="M454.5,154.3 L442.7,582.3"/><path d="M525.1,154.3 L509.3,582.3"/><path d="M128.8,165.0 Q327.2,161.8 525.6,168.7"/><path d="M128.8,245.6 Q327.2,242.4 525.6,249.5"/><path d="M128.8,326.2 Q327.2,323.0 525.6,330.4"/><path d="M128.8,406.8 Q327.2,403.6 525.6,411.3"/><path d="M128.8,487.4 Q327.2,484.2 525.6,492.2"/><path d="M128.8,568.1 Q327.2,564.9 525.6,573.2"/></g><g fill="none" stroke="#505050" stroke-width="1.4" stroke-linejoin="round" stroke-linecap="round"><path d="M188.8,223.8 L190.7,223.5 L192.5,224.5 L194.2,226.5 L196.2,227.5 L197.6,229.0 L199.3,230.4 L201.2,231.2 L203.4,231.5 L205.0,233.0 L207.0,231.7 L208.8,232.0 L210.1,233.8 L212.5,234.5 L214.5,235.3 L215.9,235.9 L217.5,237.5 L219.3,237.8 L221.1,239.5 L222.5,240.0 L224.7,240.6 L226.1,241.9 L227.5,242.5 L228.6,243.8 L230.4,244.6 L232.5,245.5 L234.4,245.7 L235.4,247.9 L237.7,248.2 L238.8,249.5 L240.4,249.7 L242.2,248.4 L243.8,248.0 L245.6,248.4 L248.3,247.4 L250.0,247.0 L252.2,247.5 L254.1,248.1 L256.2,248.0 L258.4,247.3 L260.3,247.4 L262.5,247.0 L264.7,246.8 L266.9,245.2 L268.8,244.5 L270.9,244.0 L271.8,243.2 L274.0,242.4 L275.0,241.2 L277.1,240.3 L278.3,239.1 L280.0,238.0 L281.7,237.0 L283.8,235.5 L285.8,236.6 L287.5,237.0 L289.6,237.1 L290.4,238.4 L292.5,238.8 L295.1,238.0 L297.5,238.8 L299.3,239.5 L300.8,241.5 L302.5,242.5 L304.0,243.7 L305.6,243.7 L307.5,245.0 L309.4,245.6 L311.0,247.6 L312.5,248.8 L313.8,249.6 L314.5,251.2"/><path d="M313.8,230.0 L313.5,231.4 L312.6,233.6 L313.2,235.0 L313.2,237.2 L313.6,238.9 L313.0,241.2 L313.3,243.5 L313.3,245.8 L312.8,247.5 L313.4,249.2 L312.5,251.2"/><path d="M312.5,251.2 L311.7,253.4 L310.3,255.1 L308.8,256.2 L307.4,257.7 L306.1,259.5 L305.0,261.2 L303.7,263.0 L301.5,263.3 L300.0,264.5"/><path d="M305.0,261.2 L302.7,261.8 L301.2,263.8 L300.0,266.2 L299.6,268.3 L300.0,270.0 L299.4,271.7 L297.6,273.0 L296.2,275.0 L295.5,277.5 L294.1,278.6 L293.8,281.2 L293.2,282.8 L291.1,283.1 L290.0,285.0 L289.9,286.5 L289.2,288.6 L288.0,290.0 L288.4,291.6 L287.3,293.5 L287.5,295.0 L288.6,296.8 L289.2,298.6 L290.0,300.0 L291.1,301.2 L291.5,303.0"/><path d="M170.0,283.8 L171.9,284.8 L173.0,284.6 L175.0,284.5 L176.9,283.2 L178.8,282.5 L180.1,282.9 L182.4,281.6 L183.8,282.0 L185.9,282.5 L187.3,283.8 L188.8,285.0 L189.5,287.3 L191.2,288.8 L192.8,289.2 L194.6,290.3 L196.2,290.8 L198.3,291.0 L200.2,291.6 L202.5,292.0 L204.4,292.1 L206.1,292.6 L207.5,293.8 L209.2,295.2 L211.0,295.0 L212.5,296.2 L213.6,298.0 L215.1,299.3 L217.5,300.0 L218.5,301.5 L220.9,302.9 L222.5,303.8 L224.2,304.7 L225.9,306.2 L227.5,306.2 L229.7,306.3 L231.8,306.6 L233.8,308.0 L235.5,307.4 L237.6,308.2 L240.0,308.0 L241.8,307.8 L243.8,309.5 L246.2,309.5 L247.9,308.5 L249.7,309.3 L251.2,308.8 L253.0,308.6 L254.5,308.6 L256.2,308.0 L257.9,309.3 L259.7,310.0 L261.2,310.0 L263.2,311.0 L265.6,310.9 L267.5,311.2 L269.2,311.9 L271.2,313.0 L273.8,313.0 L275.8,313.6 L278.2,313.7 L280.0,315.0 L281.5,313.7 L282.5,312.8 L284.1,311.1 L285.0,310.0 L287.0,308.5 L287.9,306.3 L290.0,305.5 L292.5,304.5"/><path d="M300.0,264.5 L301.8,264.5 L303.9,263.5 L305.0,262.5 L307.0,263.6 L308.3,264.6 L310.0,266.2 L311.9,267.1 L313.5,267.7 L314.6,268.7 L316.2,270.0 L317.8,270.8 L319.7,272.0 L320.4,273.3 L322.5,273.8 L323.2,275.7 L324.6,277.0 L326.2,277.5 L326.6,279.0 L326.5,281.4 L327.5,282.5 L328.4,284.0 L329.7,286.3 L331.2,287.5 L333.1,289.5 L335.0,290.0 L334.7,292.4 L336.0,294.2 L336.2,296.2 L336.5,298.3 L336.4,300.3 L336.8,302.0 L337.0,303.8 L336.9,305.9 L337.5,307.5 L338.8,308.8 L341.2,308.1 L343.8,308.8 L345.6,308.2 L347.5,307.7 L350.0,308.0 L352.3,308.2 L354.5,309.2 L356.2,308.8 L357.9,309.2 L360.2,309.0 L362.5,310.0 L364.3,311.0 L366.6,311.2 L368.8,311.2 L371.1,311.4 L372.6,311.5 L375.0,311.2 L377.0,311.5 L379.0,312.1 L381.2,311.2 L383.4,311.3 L384.3,311.9 L386.2,312.5 L387.4,314.4 L388.6,314.8 L390.0,316.2 L390.4,318.1 L392.2,319.0 L393.0,321.2 L393.4,323.1 L395.6,324.1 L396.2,326.2 L397.5,328.5 L399.2,329.4 L400.0,331.2 L402.0,333.1 L403.0,335.0"/><path d="M403.0,335.0 L405.6,335.4 L407.5,335.0 L408.9,333.3 L410.4,334.0 L412.0,332.5 L413.2,330.8 L412.8,328.6 L413.8,327.5 L414.4,325.8 L415.7,324.1 L416.2,322.5 L417.2,320.7 L417.3,318.6 L418.0,316.2 L418.1,314.1 L418.3,312.0 L419.5,310.0 L420.0,308.4 L419.4,306.6 L419.9,304.7 L419.5,302.5 L420.0,300.0"/><path d="M403.0,335.0 L400.9,336.1 L398.8,336.2 L396.8,337.8 L396.2,340.0 L395.7,341.5 L395.5,343.9 L394.5,345.0 L393.5,346.3 L393.0,348.4 L392.5,350.0 L390.8,351.1 L390.4,353.3 L388.8,355.0 L387.0,356.4 L385.9,357.0 L384.5,358.8 L383.3,360.5 L381.2,362.5 L379.7,364.2 L377.5,365.0 L376.0,365.4 L374.2,365.1 L372.5,364.5 L371.1,363.7 L369.3,363.8 L367.5,363.8 L366.0,363.9 L363.9,362.7 L362.5,363.0 L360.2,363.5 L358.8,364.5"/><path d="M360.0,365.5 L357.9,365.7 L356.9,364.2 L355.0,364.5 L353.3,364.5 L351.2,363.8 L349.5,362.5 L348.8,360.0 L348.3,362.3 L347.7,363.6 L346.2,365.5 L343.7,365.1 L342.3,366.7 L340.0,366.2 L337.8,365.8 L335.6,366.9 L333.8,367.5 L332.3,366.8 L330.0,366.2 L328.3,367.4 L327.5,368.8 L327.2,370.7 L326.2,373.3 L326.2,375.0 L324.9,373.7 L322.5,373.8 L320.5,374.0 L318.8,375.0 L316.6,375.9 L316.0,377.8 L315.0,378.8 L313.3,378.9 L311.4,380.7 L310.0,381.2 L307.9,381.5 L306.0,380.5 L303.8,380.5 L302.2,380.6 L300.3,381.7 L298.8,382.5 L299.1,384.6 L297.4,386.0 L297.5,387.5 L295.9,389.2 L293.8,390.0 L292.0,391.0 L290.0,390.7 L288.8,391.2 L287.2,391.6 L284.9,391.4 L283.8,390.5 L283.0,391.8 L282.5,393.8 L281.1,392.6 L278.9,392.1 L277.5,391.2 L275.5,390.6 L273.4,391.1 L271.2,390.5 L269.4,390.5 L267.0,390.7 L265.0,390.0"/><path d="M291.2,303.8 L292.8,305.4 L293.8,307.5 L294.0,309.3 L294.7,312.0 L295.0,313.8 L294.5,315.8 L293.7,317.8 L293.8,320.0 L293.7,322.4 L293.4,324.6 L292.5,326.2 L291.4,328.2 L291.7,330.0 L291.2,332.5 L290.8,335.0 L289.2,336.6 L288.8,338.8 L287.9,340.9 L285.4,341.8 L285.0,343.8 L283.6,345.2 L282.8,346.9 L281.2,348.8 L280.4,351.2 L278.9,352.1 L277.5,353.8 L276.5,355.8 L275.1,356.9 L275.0,358.8 L274.1,360.8 L273.9,363.1 L273.8,365.0 L273.0,366.6 L272.6,369.3 L272.0,371.2 L270.7,373.1 L269.9,374.3 L269.5,376.2 L269.0,378.6 L268.1,380.2 L268.0,382.5 L267.6,384.3 L266.8,386.0 L266.2,387.5 L264.6,388.3 L263.8,389.7 L262.5,391.2 L260.2,391.7 L258.8,393.0 L256.9,394.4 L255.0,396.2 L254.4,397.8 L252.6,399.2 L251.2,400.0 L249.0,401.0 L247.5,402.0 L245.4,402.5 L243.8,404.5 L242.0,406.0 L240.0,406.2 L238.1,406.9 L236.9,407.1 L235.0,407.5 L232.5,408.2 L231.2,410.0 L232.2,412.3 L233.8,413.8 L235.0,416.2"/><path d="M162.5,363.8 L164.9,364.5 L167.5,363.8 L168.2,365.2 L169.9,366.1 L171.2,367.5 L172.2,368.5 L173.7,369.8 L175.0,371.2 L177.0,370.8 L177.9,372.4 L180.0,372.0 L182.1,372.0 L184.2,371.4 L186.2,371.2 L187.9,372.1 L190.0,372.5 L191.1,371.1 L192.5,370.0 L195.1,370.3 L196.7,369.6 L198.8,368.8 L201.1,368.4 L202.1,367.8 L203.8,366.2 L204.7,365.1 L206.4,363.5 L207.5,362.5 L209.3,361.1 L211.2,359.5 L212.7,359.1 L214.9,360.4 L216.2,360.0 L217.7,360.3 L219.2,358.9 L221.2,358.8 L222.7,359.0 L224.5,359.6 L226.2,360.0 L227.7,358.9 L228.5,357.8 L230.0,356.2 L231.8,356.6 L233.3,356.1 L235.0,355.0 L236.8,353.5 L238.1,353.8 L240.0,353.0 L241.9,354.1 L243.8,352.9 L245.0,353.8 L246.7,353.9 L248.9,355.0 L250.0,356.2 L251.7,356.7 L253.1,357.1 L255.0,357.0 L256.2,356.1 L258.3,356.0 L260.0,356.2 L261.5,355.9 L263.1,356.5 L265.0,357.5 L266.6,358.0 L267.9,359.4 L268.8,361.2 L270.3,363.4 L272.5,364.5 L273.8,365.0"/><path d="M147.8,437.8 L149.5,437.2 L151.4,436.0 L152.5,434.2 L153.9,433.1 L154.8,432.0 L156.7,431.4 L158.6,431.6 L160.8,432.2 L162.0,430.7 L162.4,428.9 L163.6,427.2 L165.7,426.0 L167.8,425.8 L168.6,427.9 L170.6,429.4 L172.0,428.2 L173.0,426.5 L173.9,424.4 L173.7,422.6 L173.7,420.4 L172.8,418.9 L173.7,417.2 L175.7,416.2 L177.5,414.7 L178.2,412.3 L179.8,411.7 L180.3,409.2 L182.2,407.7 L184.4,407.8 L186.3,409.0 L188.0,408.9 L189.6,408.8 L191.4,409.2 L192.7,410.1 L195.0,410.2 L196.9,409.7 L198.3,410.6 L200.1,409.1 L201.8,409.3 L203.8,408.0 L204.7,407.2 L206.7,406.4 L209.0,407.3 L211.1,406.8 L212.8,407.8 L214.2,409.5 L215.5,411.4 L216.4,412.8 L219.1,413.1 L220.6,413.9 L223.3,413.3 L225.0,414.8 L227.1,414.2 L228.3,414.9 L230.3,416.1 L231.8,415.4 L233.5,416.3 L235.0,416.2"/><path d="M235.0,416.2 L233.2,417.6 L231.4,418.7 L230.0,420.0 L228.1,420.9 L228.1,422.7 L226.2,423.8 L225.1,425.4 L223.0,426.8 L222.5,428.8 L221.8,430.7 L221.2,433.2 L220.0,435.0 L219.6,436.6 L220.9,438.2 L221.2,440.0 L222.1,441.6 L224.1,443.1 L224.5,445.0 L225.8,446.6 L225.9,448.7 L227.5,450.0 L227.8,452.2 L229.7,452.8 L230.0,455.0 L230.4,457.1 L232.2,459.2 L232.0,461.2"/><path d="M232.0,461.2 L232.2,463.4 L230.8,464.1 L230.5,466.2 L231.0,467.7 L231.3,470.1 L232.5,471.2 L233.7,472.8 L234.1,474.4 L235.0,476.2 L235.7,477.8 L236.5,479.9 L237.0,481.2 L236.8,482.5 L237.5,484.5"/><path d="M235.0,416.2 L236.6,416.5 L238.0,418.1 L240.0,418.8 L241.7,419.7 L244.0,421.2 L246.2,421.2 L248.0,421.3 L250.6,422.7 L252.5,422.5 L254.1,423.3 L255.6,425.9 L257.5,426.2 L258.9,426.9 L261.0,428.5 L262.5,428.8 L264.1,429.7 L265.3,431.9 L267.0,432.5 L268.0,434.9 L270.0,436.2 L271.4,438.1 L271.3,440.1 L272.5,441.2 L273.4,442.7 L273.2,445.2 L274.5,446.2"/><path d="M274.5,446.2 L274.4,448.3 L276.2,449.9 L276.2,452.5 L276.5,455.0 L276.7,457.0 L278.0,458.8 L278.5,461.1 L279.4,462.9 L280.0,465.0 L280.9,466.1 L280.3,468.7 L281.2,470.0 L281.5,472.4 L283.0,473.8 L282.7,475.5 L282.0,477.9 L282.5,480.0 L281.4,482.2 L281.2,484.2 L281.2,486.2 L281.0,488.3 L281.4,490.5 L282.0,492.5 L282.0,495.0 L281.7,496.9 L282.5,498.8 L282.5,500.6 L282.3,502.9 L283.0,505.0 L282.8,507.4 L282.3,509.3 L282.0,511.2 L281.8,513.3 L279.9,514.4 L280.0,516.2 L280.8,518.5 L282.5,520.0 L282.5,521.7 L283.7,523.6 L283.8,525.0 L282.8,527.1 L282.5,528.8 L281.0,530.1 L278.8,531.2 L277.8,533.2 L277.0,535.0 L278.4,536.6 L278.8,539.5 L280.2,540.9 L282.5,542.5 L284.6,543.0 L285.4,545.0 L287.0,545.0 L288.8,546.2"/><path d="M378.6,407.5 L378.9,408.9 L377.1,410.0 L376.1,411.7 L374.7,412.0 L372.8,413.3 L370.8,413.9 L369.5,414.9 L367.8,415.6 L366.7,416.9 L365.0,417.5 L363.0,418.8 L361.6,419.9 L360.0,421.2 L358.3,422.9 L357.1,423.8 L355.0,425.0 L353.3,425.9 L351.4,426.5 L350.0,428.0 L348.4,428.5 L347.2,429.5 L345.6,430.4 L343.8,431.2 L342.4,432.2 L340.5,432.8 L339.2,434.2 L337.5,435.0 L335.9,435.2 L333.9,435.4 L332.5,436.2 L330.7,437.8 L328.8,438.8 L327.1,439.2 L325.0,440.5 L323.5,440.4 L321.7,440.1 L320.0,439.5 L318.0,439.1 L317.1,440.4 L315.0,440.5 L313.3,440.7 L312.1,442.5 L310.0,442.5 L308.2,444.0 L306.9,444.5 L305.0,445.0 L302.9,445.6 L302.1,444.7 L300.0,444.5 L298.1,443.6 L296.6,443.2 L295.0,442.5 L293.0,442.4 L291.2,443.8 L289.3,443.0 L288.0,442.3 L286.2,442.0 L284.9,440.4 L284.4,438.3 L283.0,437.0 L283.1,438.9 L282.1,440.7 L281.3,442.7 L281.2,445.0 L279.9,445.7 L277.8,446.4 L276.2,446.2"/><path d="M148.0,474.5 L149.9,473.7 L152.5,473.8 L153.8,473.1 L155.5,472.5 L157.5,472.0 L159.2,471.8 L161.1,471.2 L162.5,471.2 L164.2,469.5 L165.5,469.6 L167.5,468.8 L169.4,469.8 L171.2,471.2 L173.2,472.0 L173.6,474.0 L175.0,475.0 L176.9,476.0 L178.4,476.3 L180.0,477.0 L181.8,478.1 L183.1,477.1 L185.0,478.0 L187.0,479.4 L189.2,478.5 L191.2,480.0 L193.3,480.1 L195.3,480.4 L197.5,481.2 L199.5,481.6 L201.2,482.1 L202.5,482.0 L203.7,480.6 L206.2,481.3 L207.5,480.0 L208.9,479.3 L211.4,479.6 L212.5,478.8 L214.5,478.3 L216.2,477.9 L217.5,477.0 L219.6,478.6 L221.2,480.0 L223.2,480.4 L224.3,481.0 L226.2,480.5 L227.8,480.7 L229.5,480.3 L231.2,481.2 L232.6,482.4 L234.7,481.4 L236.2,482.5 L237.5,484.5"/><path d="M237.5,484.5 L239.1,485.0 L241.2,484.1 L242.9,485.3 L245.0,485.0 L247.2,485.8 L249.5,485.3 L251.6,485.5 L253.8,485.5 L256.0,485.0 L257.5,483.8 L258.5,482.8 L259.4,481.1 L261.2,480.0 L263.6,479.4 L264.7,477.7 L266.2,477.0 L267.8,475.1 L269.4,474.1 L271.2,473.8 L273.3,475.4 L275.0,476.2 L276.4,477.5 L278.4,477.2 L280.0,478.8 L282.5,480.0"/><path d="M237.5,485.0 L238.0,487.1 L240.0,488.8 L240.9,490.9 L242.5,492.5 L242.8,495.1 L244.5,497.0 L243.2,498.6 L241.2,500.5 L239.2,502.5 L237.5,503.8 L236.3,505.0 L236.2,506.7 L236.2,508.8 L236.3,510.4 L237.2,512.0 L237.0,513.8 L235.9,515.4 L236.0,516.9 L235.0,518.8 L234.5,521.1 L233.0,522.0"/><path d="M286.2,549.5 L287.1,547.5 L288.0,545.0 L290.0,545.1 L291.2,543.8 L293.6,545.3 L295.5,546.2 L297.8,544.9 L300.0,545.0 L302.0,545.7 L303.8,547.5 L306.2,547.9 L308.0,548.8 L307.7,550.9 L308.8,552.5 L308.7,554.1 L308.0,556.2"/><path d="M283.0,518.2 L284.3,516.6 L286.2,516.2 L288.7,516.4 L290.4,516.9 L292.5,517.0 L293.9,517.9 L295.7,517.9 L297.5,517.5 L299.2,515.9 L300.5,514.8 L301.2,513.0 L302.6,512.2 L303.9,509.9 L305.0,508.8 L307.0,508.5 L308.8,507.5 L310.4,507.4 L311.8,508.1 L313.8,508.8 L315.4,509.8 L316.8,509.3 L318.8,509.5 L320.2,508.6 L321.7,507.7 L323.8,507.5 L325.5,506.5 L327.0,507.0 L328.8,505.5 L330.7,504.7 L331.8,504.4 L333.8,505.0 L336.2,504.5"/><path d="M336.2,504.5 L338.2,502.8 L340.0,501.2 L340.8,499.2 L342.3,498.1 L342.9,496.3 L343.8,495.0 L345.3,494.0 L345.7,492.1 L347.5,491.2 L349.4,490.0 L349.9,487.7 L351.2,486.2 L351.5,484.5 L353.3,483.4 L353.7,481.1 L354.5,480.0 L355.1,478.0 L355.0,475.6 L356.2,473.8 L356.6,471.8 L357.8,469.6 L357.5,467.5 L356.6,465.5 L355.5,463.9 L355.0,462.5 L355.7,461.0 L355.9,458.8 L356.2,457.5 L357.7,456.6 L359.9,455.5 L361.2,453.8 L362.7,452.2 L364.4,450.8 L366.2,450.0 L367.2,448.5 L367.8,446.8 L368.8,445.0 L369.5,442.7 L368.9,440.6 L370.0,438.8 L371.3,436.9 L371.9,435.2 L372.0,433.8 L372.4,431.4 L372.7,429.8 L372.5,427.5 L372.4,425.6 L371.8,424.4 L371.2,422.5 L371.7,420.5 L371.3,419.3 L370.5,417.5 L369.7,416.0 L370.0,413.8"/><path d="M336.2,504.5 L337.5,506.2 L337.5,508.6 L338.0,511.2 L337.9,513.2 L339.2,515.3 L340.0,517.5 L339.8,519.4 L341.1,521.5 L341.2,523.8 L342.0,525.3 L342.1,527.6 L342.5,530.0 L342.9,531.8 L344.1,534.0 L344.5,536.2 L344.6,537.9 L346.2,539.5 L347.3,541.9 L347.9,544.2 L347.5,546.2 L348.5,547.8 L349.7,550.1 L351.2,551.2 L352.9,553.0 L354.2,554.4 L355.0,556.2 L356.7,557.7 L358.0,558.8"/><path d="M346.2,539.5 L348.6,539.6 L350.6,537.5 L352.5,537.5 L354.3,536.0 L355.1,534.5 L357.5,533.8 L360.1,533.6 L361.3,531.3 L363.8,531.2 L365.2,530.4 L366.6,529.0 L368.8,528.8 L369.8,527.4 L372.1,527.5 L373.2,525.7 L375.0,525.0 L377.2,523.4 L379.3,523.3 L381.2,522.5 L383.3,522.6 L385.4,520.9 L387.5,520.0 L388.8,518.0 L389.0,516.1 L390.0,513.8 L390.5,511.4 L391.6,509.8 L391.2,507.5 L392.2,505.2 L392.8,503.4 L393.8,501.2 L395.2,499.6 L396.2,498.0 L396.1,496.3 L397.5,495.0 L399.2,493.3 L400.7,492.9 L402.5,492.5 L404.3,492.0 L405.8,490.8 L407.5,490.0 L408.9,488.1 L410.0,486.2"/><path d="M360.0,365.5 L359.1,366.9 L358.9,368.7 L358.7,370.6 L358.8,372.5 L358.2,374.4 L358.9,376.6 L358.4,378.2 L357.5,380.0 L356.5,382.1 L356.3,383.9 L356.2,386.2 L356.8,388.1 L357.4,390.1 L358.0,392.5 L357.9,394.6 L359.2,396.7 L360.0,398.8 L361.5,400.6 L362.4,402.4 L363.8,403.8 L365.0,404.6 L366.5,406.4 L366.7,408.0 L368.9,408.6 L371.4,409.2 L372.4,408.7 L373.9,407.5 L376.3,407.4 L378.6,407.5"/><path d="M378.6,407.5 L377.8,405.0 L378.7,403.3 L379.4,401.7 L381.6,400.3 L383.8,399.2 L385.4,398.2 L386.5,396.9 L388.8,396.2 L390.6,396.0 L393.0,395.4 L395.0,394.5 L396.8,393.5 L398.2,393.0 L400.0,392.5 L401.6,393.9 L403.8,394.5 L405.3,393.5 L407.5,392.0 L409.1,391.8 L410.8,390.4 L412.5,390.5 L413.9,390.0 L415.6,389.7 L417.5,389.5 L419.3,388.2 L420.7,386.5 L422.5,386.2 L424.5,386.1 L426.2,385.5 L428.5,386.0 L430.0,387.5 L432.3,387.1 L434.6,388.2 L436.2,388.8 L438.1,388.7 L439.9,390.2 L441.2,390.5 L443.1,391.4 L445.0,392.5 L445.5,390.6 L446.2,389.4 L446.2,387.5 L448.3,386.8 L450.0,385.5 L451.7,386.8 L453.8,387.5 L455.7,387.9 L457.5,389.5 L458.6,390.5 L461.0,390.4 L462.5,390.5 L465.3,390.3 L467.5,390.5 L469.5,390.1 L470.6,390.5 L472.5,389.5 L474.4,390.0 L476.9,390.2 L478.8,390.0 L481.1,390.1 L482.8,389.5 L485.0,389.5 L487.3,389.9 L489.6,389.1 L491.2,388.8 L493.2,388.6 L494.4,387.8 L496.2,388.0 L498.5,386.9 L500.0,386.2 L501.9,386.4 L503.0,385.0"/><path d="M369.5,437.5 L372.0,437.0 L373.8,436.0 L375.3,436.7 L377.5,436.2 L379.4,435.2 L380.6,435.6 L382.5,435.5 L384.6,435.4 L386.1,434.4 L387.5,434.5 L389.8,434.5 L391.2,435.0 L392.0,436.3 L393.8,437.5 L394.2,439.2 L396.2,440.5 L398.5,440.9 L400.0,442.5 L401.2,443.4 L403.5,443.6 L405.0,443.0 L406.9,443.8 L409.0,443.8 L411.2,444.5 L412.7,443.9 L414.2,442.6 L416.2,442.5 L417.1,440.6 L418.3,439.8 L420.0,438.8 L422.0,438.0 L423.8,437.5 L425.5,439.4 L427.5,440.0 L429.8,441.3 L431.2,443.0 L432.6,444.7 L434.3,445.9 L436.2,446.2 L437.6,445.3 L439.5,445.6 L441.2,444.5 L443.7,443.8 L444.6,442.8 L446.2,441.2 L447.7,439.3 L449.2,438.5 L451.2,437.5 L453.1,436.3 L454.5,434.9 L456.2,433.8 L457.6,432.6 L458.8,431.5 L459.2,429.6 L461.2,428.8 L462.7,427.1 L464.2,426.1 L466.2,425.0 L467.9,425.0 L469.9,424.2 L471.2,423.0"/><path d="M436.0,445.8 L433.7,445.6 L431.2,447.0 L430.2,448.2 L429.5,450.1 L427.5,451.2 L426.2,452.2 L424.7,453.7 L423.9,454.7 L422.5,456.2 L422.5,458.0 L421.2,460.0 L420.5,461.2 L419.8,463.2 L420.4,465.4 L419.5,467.5 L417.9,469.6 L418.2,471.6 L417.0,473.8 L416.5,476.1 L415.2,477.5 L415.0,480.0 L413.9,481.5 L412.5,483.8 L412.1,485.0 L411.6,486.9 L411.2,488.8 L411.2,490.8 L411.7,493.1 L412.5,495.0 L412.6,497.1 L412.4,498.5 L413.0,500.6 L412.0,502.5 L412.5,504.2 L411.7,506.5 L411.6,508.1 L412.5,510.0 L411.6,511.9 L411.4,514.1 L411.2,516.2 L410.1,518.3 L410.0,520.0 L408.1,521.1 L406.2,521.2 L405.8,523.5 L407.3,525.6 L407.0,527.5 L407.2,529.7 L408.2,531.2 L408.0,533.8 L408.6,535.9 L407.0,538.1 L407.5,540.0 L408.0,541.9 L408.5,543.7 L408.0,546.2 L406.8,548.1 L407.4,550.0 L406.2,552.0"/><path d="M183.0,240.0 L185.3,239.6 L187.0,239.0 L186.8,240.9 L186.0,242.0 L188.2,242.2 L189.2,241.6 L191.0,241.0 L191.6,242.6 L193.5,244.0 L191.5,244.4 L189.0,245.2 L187.6,244.1 L186.0,244.0"/><path d="M183.5,243.0 L184.6,244.4 L186.0,246.0 L184.0,248.0"/><path d="M181.5,259.5 L183.6,260.1 L185.0,261.0 L186.0,259.5 L188.0,259.0 L187.6,261.4 L187.0,263.0 L188.9,263.5 L190.5,264.5 L189.0,265.3 L186.8,264.5 L185.0,265.0 L183.7,263.9 L182.0,263.5"/><path d="M268.0,385.0 L267.7,387.5 L266.2,387.5 L265.8,389.4 L263.4,388.9 L264.0,390.6 L262.5,391.2 L260.3,391.5 L259.7,392.0 L258.8,393.0 L258.1,394.0 L256.5,394.1 L255.7,395.5 L255.0,396.2 L254.3,396.4 L253.5,398.9 L251.7,399.3 L251.2,400.0 L251.0,401.7 L248.4,401.5 L247.5,402.0 L246.4,403.8 L245.4,403.7 L243.8,404.5 L242.6,403.9 L241.0,404.4 L240.0,406.2 L239.3,406.9 L237.0,407.1 L236.4,408.0 L235.0,407.5 L234.1,408.3 L232.9,410.3 L231.2,410.0"/><path d="M265.0,390.0 L266.5,391.3 L268.2,390.2 L270.3,391.1 L271.2,390.5 L272.5,390.4 L273.9,390.5 L276.5,391.5 L277.5,391.2 L279.4,391.3 L280.8,392.1 L281.0,393.2 L282.5,393.8 L281.8,392.1 L283.8,390.5"/><path d="M199.2,179.5 L200.6,179.4 L202.5,180.0 L203.1,181.3 L204.5,183.0 L205.5,185.5 L207.0,186.3 L208.8,187.0 L210.5,185.9 L212.5,186.2 L214.2,186.4 L215.0,188.0 L216.3,186.6 L218.8,186.2 L220.9,186.6 L222.5,187.0 L224.0,186.0 L226.2,186.2 L228.8,187.0 L230.2,185.3 L231.0,184.1 L232.0,182.5 L233.4,181.1 L234.2,178.7 L234.5,176.2 L235.3,174.3 L237.5,172.5 L239.3,171.6 L240.7,171.0 L242.5,171.0 L244.0,171.5 L245.5,171.5 L247.5,171.8 L248.8,170.7 L250.8,171.4 L252.5,170.8 L254.5,171.1 L256.2,172.0 L257.4,173.2 L258.5,175.3 L260.0,176.2 L262.2,177.2 L263.8,178.8 L265.9,179.8 L267.5,180.5 L267.9,182.0 L268.3,183.6 L270.0,185.0 L271.5,186.3 L272.9,187.1 L273.8,188.8 L275.7,189.5 L276.2,191.2 L277.2,193.2 L278.1,194.8 L280.0,196.2 L281.1,197.8 L282.4,198.8 L283.8,200.0 L284.8,202.3 L286.4,203.4 L287.5,205.0 L289.8,206.1 L291.0,208.5 L292.5,209.5 L293.9,211.3 L296.2,212.5 L298.4,213.7 L300.0,215.0 L301.9,216.4 L302.5,218.8 L303.7,219.9 L304.9,222.0 L305.0,223.8 L306.8,223.9 L308.7,225.4 L310.0,226.2 L311.5,228.0 L311.7,230.8 L312.5,232.5 L313.6,234.4 L315.2,234.7 L316.2,236.2 L317.9,237.8 L318.0,239.4 L320.0,240.5 L321.8,241.3 L323.6,242.8 L325.0,244.5 L326.7,244.9 L328.8,245.0 L330.0,242.9 L332.5,242.0 L334.3,240.5 L336.2,239.5 L337.6,237.9 L337.5,236.1 L338.0,234.5 L339.5,234.0 L341.2,232.5 L343.8,233.8 L344.6,236.2 L346.2,237.5 L347.2,239.6 L348.8,240.3 L350.0,242.0 L351.8,242.8 L352.7,243.5 L353.8,245.5 L355.7,246.6 L357.5,248.8 L358.3,250.0 L359.5,251.5 L359.5,253.8 L361.1,255.4 L362.4,257.9 L362.5,260.0 L363.0,261.6 L364.5,263.4 L365.0,265.5 L366.7,266.4 L368.8,268.0 L370.6,269.4 L372.1,269.3 L373.8,270.0 L375.5,269.9 L377.5,271.2 L378.7,269.6 L380.5,268.0 L383.0,269.5 L383.5,271.0 L386.0,272.1 L386.2,273.8 L387.9,275.2 L390.0,277.0 L390.9,278.2 L392.7,280.2 L393.8,281.2 L396.1,281.6 L397.8,280.4 L400.0,280.5 L402.5,280.7 L404.4,282.0 L406.2,282.5 L407.8,282.6 L409.9,283.9 L411.2,283.8 L412.3,285.6 L413.5,286.8 L415.0,287.5 L416.4,288.9 L417.0,290.4 L418.0,292.5 L419.4,293.9 L419.5,296.2 L420.3,298.0 L419.4,299.7 L420.5,301.2 L421.8,303.3 L422.8,304.3 L424.9,304.5 L426.2,306.2 L428.0,307.3 L429.5,309.8 L430.5,311.3 L432.5,312.5 L434.1,314.2 L436.2,314.8 L436.9,317.3 L438.8,318.0 L440.1,319.7 L442.6,320.4 L443.8,322.0 L445.7,320.6 L447.5,320.0 L448.9,321.7 L451.2,322.0 L453.3,323.5 L454.1,324.9 L456.2,326.2 L458.1,326.8 L459.4,329.5 L461.2,330.0 L463.1,331.5 L463.2,333.9 L465.0,335.0 L466.7,336.1 L468.0,337.5 L469.0,338.6 L468.3,341.2 L469.5,342.5 L470.2,344.5 L470.9,346.1 L471.2,347.5 L471.2,349.1 L472.8,350.5 L473.0,352.5 L473.7,354.2 L473.9,355.7 L473.8,357.5 L475.3,359.2 L475.6,360.7 L476.2,362.5 L477.6,364.1 L479.1,365.2 L480.0,366.2 L481.7,367.1 L482.9,367.8 L485.0,368.8 L486.0,370.3 L487.0,372.5 L489.3,374.0 L490.0,376.2 L491.8,376.1 L493.3,377.5 L495.0,377.5 L497.1,378.5 L498.8,380.0 L501.2,378.8 L502.6,380.9 L503.8,382.5 L504.4,385.1 L503.8,387.5 L502.2,388.8 L500.0,389.5 L497.9,390.0 L496.2,391.2 L495.5,393.3 L495.0,395.0 L494.5,396.9 L495.5,398.8 L493.9,400.2 L492.5,402.0 L493.8,404.5 L491.9,404.7 L490.4,404.9 L488.8,405.0 L486.7,405.5 L485.0,405.6 L483.8,406.2 L482.1,406.8 L480.9,408.9 L480.0,410.0 L478.1,410.6 L476.2,412.5 L475.5,414.2 L473.8,415.0 L474.1,416.8 L473.0,418.8 L473.2,421.0 L472.0,422.5 L472.5,421.2 L473.5,423.7 L475.0,425.0 L475.1,427.4 L474.0,428.8 L473.8,431.2 L474.2,433.6 L476.0,434.7 L476.2,436.2 L475.8,438.0 L474.2,439.6 L474.5,441.2 L475.4,443.2 L475.1,445.3 L475.5,447.5 L476.6,448.8 L476.3,450.6 L477.5,452.5 L477.2,454.5 L478.0,456.6 L477.0,458.8 L477.4,460.9 L479.0,463.1 L478.8,465.0 L480.7,466.0 L482.1,465.1 L483.8,466.2 L485.9,467.3 L486.6,468.6 L488.0,470.5 L486.4,472.5 L485.0,473.8 L483.2,475.1 L482.0,477.5 L480.6,480.0 L478.8,481.2 L478.2,483.1 L478.7,484.4 L477.5,486.2 L477.0,488.2 L477.9,490.8 L477.0,492.5 L475.7,494.5 L475.0,496.2 L474.0,498.2 L472.8,499.5 L471.2,500.0 L470.2,501.2 L468.4,502.7 L467.5,503.8 L466.8,505.1 L465.1,506.1 L463.8,507.5 L463.2,509.3 L462.0,511.1 L460.0,512.5 L459.9,514.1 L458.8,515.6 L458.8,517.5 L459.3,519.1 L460.0,521.2 L458.6,522.5 L456.2,523.8 L455.1,524.8 L452.7,525.1 L451.2,526.2 L449.9,527.9 L447.7,528.0 L446.2,530.0 L444.4,530.3 L442.7,531.8 L441.2,532.5 L439.7,533.9 L437.4,535.0 L436.2,536.2 L435.1,538.5 L433.8,540.0 L433.8,542.5 L431.9,542.6 L430.6,543.5 L428.8,543.8 L427.7,545.1 L425.6,546.2 L423.8,546.2 L422.5,547.3 L420.5,548.7 L418.8,548.8 L416.7,548.8 L415.7,550.2 L413.8,550.5 L411.8,551.5 L409.8,552.4 L407.5,552.5 L405.7,553.9 L403.8,553.5 L402.5,555.0 L401.2,556.6 L400.0,557.0 L398.5,557.6 L396.9,558.5 L395.0,558.0 L393.4,558.9 L391.9,560.1 L390.0,560.5 L388.9,562.0 L387.1,562.8 L385.0,563.0 L384.1,564.5 L382.0,565.3 L380.0,566.2 L378.8,564.7 L377.7,563.0 L376.2,562.0 L374.3,560.5 L372.5,560.0 L370.5,560.0 L368.7,558.9 L366.2,559.5 L364.4,559.3 L362.7,560.6 L361.2,560.0 L359.7,558.1 L357.5,557.5 L356.3,555.8 L354.6,555.4 L353.8,553.8 L351.8,552.5 L350.5,551.0 L348.8,550.5 L346.7,550.7 L345.2,550.7 L343.8,551.2 L342.0,551.4 L339.6,551.1 L337.5,550.0 L335.0,550.2 L333.2,549.0 L331.2,548.8 L329.2,549.2 L327.5,550.0 L325.8,549.9 L323.2,549.1 L321.2,549.5 L319.1,550.1 L317.4,550.3 L315.0,551.2 L313.3,551.6 L312.2,553.5 L310.0,553.8 L308.7,554.5 L307.5,556.2 L305.1,556.9 L303.8,558.0 L302.4,559.0 L300.8,560.3 L299.5,561.2 L298.4,559.4 L297.3,558.5 L295.5,557.0 L294.5,558.3 L292.5,558.8 L291.0,557.2 L288.8,556.2 L287.5,555.5 L285.3,555.3 L283.8,553.8 L285.3,551.6 L286.2,549.5 L284.6,548.8 L282.5,548.5 L280.9,548.1 L278.8,547.5 L277.3,546.4 L274.9,545.6 L272.9,546.8 L271.2,545.5 L269.3,544.4 L267.9,544.6 L265.5,544.4 L264.0,544.0 L262.5,543.0 L260.5,543.2 L259.2,541.4 L257.0,541.2 L255.0,541.2 L253.6,539.8 L251.4,539.9 L250.7,539.0 L248.8,538.0 L246.7,537.6 L245.7,536.0 L243.8,535.4 L242.5,533.8 L240.8,532.5 L239.3,531.7 L239.4,529.8 L237.5,528.8 L236.8,526.3 L235.7,524.7 L233.8,523.0 L233.0,522.0 L231.3,522.2 L229.3,521.2 L227.5,522.0 L225.9,522.0 L224.5,521.9 L222.5,521.2 L220.7,522.2 L218.9,522.2 L217.5,522.0 L216.0,522.2 L214.4,521.5 L212.5,521.2 L210.5,522.0 L208.8,521.5 L207.5,522.5 L205.5,521.8 L204.3,520.9 L202.5,521.2 L201.1,521.4 L199.1,522.0 L197.5,523.0 L195.6,522.8 L194.6,523.8 L192.5,523.8 L190.9,523.2 L189.0,524.3 L187.0,524.5 L185.5,522.6 L185.6,520.4 L183.8,518.8 L182.8,517.1 L181.4,515.4 L180.0,513.8 L178.5,512.7 L176.9,510.4 L176.2,508.8 L175.2,507.7 L173.9,505.5 L172.5,505.0 L171.0,504.0 L169.1,503.1 L167.5,501.2 L165.9,501.0 L163.9,500.6 L162.0,499.5 L161.7,496.9 L161.2,495.0 L160.8,493.2 L159.4,491.7 L158.8,490.0 L157.4,488.7 L155.8,487.6 L155.0,485.5 L154.6,483.8 L152.4,482.6 L151.2,481.2 L150.2,479.2 L148.0,477.5 L147.6,475.2 L148.0,472.5 L147.7,470.7 L148.5,468.4 L148.3,467.2 L147.5,465.0 L146.6,463.0 L147.9,461.2 L147.3,459.8 L147.0,457.5 L147.3,455.2 L148.5,453.6 L149.0,452.3 L148.8,450.0 L147.9,448.3 L148.3,445.7 L148.0,443.8 L148.6,441.4 L147.9,439.3 L147.5,437.5 L148.7,435.5 L150.0,433.8 L150.0,431.6 L151.0,429.9 L152.0,428.8 L152.0,426.8 L150.9,424.9 L151.2,422.5 L151.9,420.7 L151.4,419.4 L152.5,417.5 L154.5,416.5 L156.2,415.5 L158.1,415.2 L160.0,415.4 L162.5,415.0 L164.1,414.3 L166.1,414.9 L167.5,413.8 L168.9,412.4 L168.7,410.4 L170.0,408.8 L171.6,407.3 L171.2,405.6 L172.5,403.8 L172.3,401.9 L172.1,400.6 L172.0,398.8 L171.5,396.6 L170.4,396.0 L170.0,393.8 L168.9,391.8 L168.7,389.7 L167.5,387.5 L167.5,385.1 L166.7,383.6 L166.2,381.2 L166.6,379.2 L166.0,377.2 L165.0,375.0 L164.1,373.2 L163.7,371.4 L163.8,370.0 L163.2,368.6 L162.2,366.9 L162.0,365.0 L162.6,362.8 L162.5,361.2 L163.2,359.1 L165.0,357.5 L166.1,355.0 L167.5,353.8 L167.0,352.0 L167.1,349.6 L168.0,347.5 L168.3,345.0 L167.7,342.9 L167.0,341.2 L167.1,339.4 L165.0,337.8 L165.0,336.2 L165.1,334.5 L164.5,332.1 L163.8,330.0 L163.9,328.4 L163.9,326.9 L165.0,325.0 L163.5,323.4 L162.5,321.2 L162.7,319.2 L161.2,317.0 L163.0,316.1 L163.8,313.8 L165.8,312.5 L167.5,312.0 L169.6,311.5 L171.2,310.0 L170.9,308.2 L172.0,306.3 L172.5,305.0 L172.8,303.2 L174.6,302.3 L175.0,300.0 L175.3,297.6 L176.2,296.3 L176.2,293.8 L175.5,291.6 L176.2,288.8 L175.7,286.9 L173.8,285.5 L171.6,284.8 L170.0,285.0 L168.8,282.5 L169.7,280.6 L171.2,278.8 L173.4,278.1 L174.5,276.2 L175.1,274.0 L176.2,272.5 L177.1,270.6 L178.8,268.8 L179.4,266.2 L181.2,265.0 L183.5,265.0 L185.0,263.8 L184.9,261.9 L183.0,260.0 L182.4,258.4 L183.4,256.2 L182.5,255.0 L183.2,253.2 L184.5,251.2 L184.5,249.6 L185.5,248.3 L185.0,246.2 L184.3,244.5 L183.0,243.8 L183.5,241.6 L183.0,240.0 L184.5,240.2 L186.2,240.0 L187.5,237.5 L187.4,235.9 L188.4,234.6 L188.2,232.5 L187.9,230.6 L188.1,229.5 L188.8,227.5 L187.6,225.7 L188.0,223.8 L187.0,221.8 L187.3,219.8 L186.2,218.8 L185.5,217.5 L184.8,215.6 L185.0,213.8 L184.3,211.7 L183.0,210.0 L182.3,208.3 L182.5,206.2 L183.8,204.6 L184.5,203.0 L186.5,201.6 L187.5,200.0 L189.3,199.2 L191.2,197.5 L193.3,196.8 L195.0,195.0 L196.3,193.9 L197.6,193.0 L198.8,191.2 L198.9,189.6 L199.5,187.4 L200.5,186.2 L199.8,184.2 L198.8,182.0Z"/></g><rect x="105.7" y="164.45" width="3.4" height="1.5" fill="#4a4a4a"/><rect x="105.7" y="245.05" width="3.4" height="1.5" fill="#4a4a4a"/><rect x="105.7" y="325.65" width="3.4" height="1.5" fill="#4a4a4a"/><rect x="105.7" y="406.25" width="3.4" height="1.5" fill="#4a4a4a"/><rect x="105.7" y="486.85" width="3.4" height="1.5" fill="#4a4a4a"/><rect x="105.7" y="567.55" width="3.4" height="1.5" fill="#4a4a4a"/><rect x="176.25" y="603.9" width="1.5" height="3.2" fill="#4a4a4a"/><rect x="242.45" y="603.9" width="1.5" height="3.2" fill="#4a4a4a"/><rect x="308.95" y="603.9" width="1.5" height="3.2" fill="#4a4a4a"/><rect x="375.55" y="603.9" width="1.5" height="3.2" fill="#4a4a4a"/><rect x="441.95" y="603.9" width="1.5" height="3.2" fill="#4a4a4a"/><rect x="508.55" y="603.9" width="1.5" height="3.2" fill="#4a4a4a"/></svg>
<svg width="720" height="658" style="position:absolute;left:0;top:0"><rect x="548.4" y="156.6" width="20.5" height="79.7" fill="#08306B"/><rect x="548.4" y="236" width="20.5" height="40.3" fill="#08519C"/><rect x="548.4" y="276" width="20.5" height="40.3" fill="#2171B5"/><rect x="548.4" y="316" width="20.5" height="40.3" fill="#4292C6"/><rect x="548.4" y="356" width="20.5" height="40.3" fill="#6BAED6"/><rect x="548.4" y="396" width="20.5" height="40.3" fill="#9ECAE1"/><rect x="548.4" y="436" width="20.5" height="40.3" fill="#C6DBEF"/><rect x="548.4" y="476" width="20.5" height="40.3" fill="#DEEBF7"/><rect x="548.4" y="516" width="20.5" height="80.3" fill="#F7FBFF"/></svg><div class="ll" style="top:188.3px">130.7</div><div class="ll" style="top:228.4px">118.0</div><div class="ll" style="top:268.5px">105.4</div><div class="ll" style="top:308.5px">92.8</div><div class="ll" style="top:348.6px">80.1</div><div class="ll" style="top:388.6px">67.5</div><div class="ll" style="top:428.6px">54.9</div><div class="ll" style="top:468.6px">42.2</div><div class="ll" style="top:508.7px">29.6</div><div class="ll" style="top:548.7px">17.0</div>
<div class="ya" style="top:157.5px">30S</div><div class="ya" style="top:238.1px">31S</div><div class="ya" style="top:318.7px">32S</div><div class="ya" style="top:399.3px">33S</div><div class="ya" style="top:479.9px">34S</div><div class="ya" style="top:560.6px">35S</div><div class="xa" style="left:157.0px">57W</div><div class="xa" style="left:223.2px">57W</div><div class="xa" style="left:289.7px">56W</div><div class="xa" style="left:356.3px">55W</div><div class="xa" style="left:422.7px">54W</div><div class="xa" style="left:489.3px">53W</div>
</body></html>
